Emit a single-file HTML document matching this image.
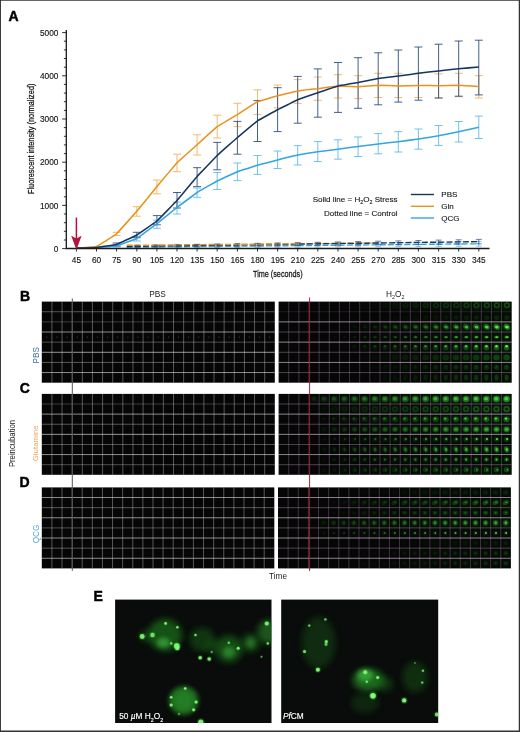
<!DOCTYPE html><html><head><meta charset="utf-8"><title>Figure</title>
<style>html,body{margin:0;padding:0;background:#fff}body{width:520px;height:732px;overflow:hidden}svg{display:block;will-change:transform}text{font-family:"Liberation Sans",sans-serif}</style></head><body>
<svg width="520" height="732" viewBox="0 0 520 732">
<defs>
<filter id="b1" x="-50%" y="-50%" width="200%" height="200%"><feGaussianBlur stdDeviation="0.9"/></filter>
<filter id="b2" x="-50%" y="-50%" width="200%" height="200%"><feGaussianBlur stdDeviation="2.2"/></filter>
<filter id="b4" x="-50%" y="-50%" width="200%" height="200%"><feGaussianBlur stdDeviation="5"/></filter>
<filter id="b05" x="-50%" y="-50%" width="200%" height="200%"><feGaussianBlur stdDeviation="0.55"/></filter>
<filter id="b07" x="-50%" y="-50%" width="200%" height="200%"><feGaussianBlur stdDeviation="0.7"/></filter>
<filter id="b08" x="-50%" y="-50%" width="200%" height="200%"><feGaussianBlur stdDeviation="0.65"/></filter>
<filter id="b3" x="-50%" y="-50%" width="200%" height="200%"><feGaussianBlur stdDeviation="3.2"/></filter>
<filter id="b03" x="-20%" y="-20%" width="140%" height="140%"><feGaussianBlur stdDeviation="0.35"/></filter>
</defs>
<rect width="520" height="732" fill="#fff"/>
<g id="panelA">
<path d="M136.8 246.5V247.9M133.8 246.5h6M133.8 247.9h6M156.9 246.2V247.8M153.9 246.2h6M153.9 247.8h6M177.0 245.9V247.7M174.0 245.9h6M174.0 247.7h6M197.1 245.6V247.6M194.1 245.6h6M194.1 247.6h6M217.2 245.3V247.5M214.2 245.3h6M214.2 247.5h6M237.4 245.0V247.4M234.4 245.0h6M234.4 247.4h6M257.5 244.7V247.3M254.5 244.7h6M254.5 247.3h6M277.6 244.4V247.2M274.6 244.4h6M274.6 247.2h6M297.7 244.1V247.1M294.7 244.1h6M294.7 247.1h6M317.8 243.8V247.0M314.8 243.8h6M314.8 247.0h6M338.0 243.5V246.9M335.0 243.5h6M335.0 246.9h6M358.1 243.2V246.8M355.1 243.2h6M355.1 246.8h6M378.2 242.9V246.7M375.2 242.9h6M375.2 246.7h6M398.3 242.6V246.6M395.3 242.6h6M395.3 246.6h6M418.4 242.3V246.5M415.4 242.3h6M415.4 246.5h6M438.6 242.0V246.4M435.6 242.0h6M435.6 246.4h6M458.7 241.7V246.3M455.7 241.7h6M455.7 246.3h6M478.8 241.4V246.2M475.8 241.4h6M475.8 246.2h6" stroke="#63bce9" stroke-width="0.8" fill="none"/>
<path d="M136.8 244.8V246.0M133.8 244.8h6M133.8 246.0h6M156.9 244.6V245.8M153.9 244.6h6M153.9 245.8h6M177.0 244.3V245.7M174.0 244.3h6M174.0 245.7h6M197.1 244.0V245.6M194.1 244.0h6M194.1 245.6h6M217.2 243.8V245.4M214.2 243.8h6M214.2 245.4h6M237.4 243.5V245.3M234.4 243.5h6M234.4 245.3h6M257.5 243.3V245.1M254.5 243.3h6M254.5 245.1h6M277.6 243.0V245.0M274.6 243.0h6M274.6 245.0h6M297.7 242.7V244.9M294.7 242.7h6M294.7 244.9h6M317.8 242.5V244.7M314.8 242.5h6M314.8 244.7h6M338.0 242.2V244.6M335.0 242.2h6M335.0 244.6h6M358.1 242.0V244.4M355.1 242.0h6M355.1 244.4h6" stroke="#f1b25e" stroke-width="0.7" fill="none"/>
<path d="M126.7 247.3 L136.8 247.2 L156.9 247.0 L177.0 246.8 L197.1 246.6 L217.2 246.4 L237.4 246.2 L257.5 246.0 L277.6 245.8 L297.7 245.6" stroke="#35a5de" stroke-width="1.4" stroke-dasharray="6 2.2" fill="none"/>
<path d="M297.7 243.8 L317.8 243.6 L338.0 243.4 L358.1 243.2 L378.2 243.0" stroke="#e9921c" stroke-width="1.4" stroke-dasharray="6 2.2" fill="none"/>
<path d="M126.7 246.5 L136.8 246.3 L156.9 246.0 L177.0 245.8 L197.1 245.5 L217.2 245.2 L237.4 244.9 L257.5 244.7 L277.6 244.4 L297.7 244.1 L317.8 243.8 L338.0 243.5 L358.1 243.3 L378.2 243.0 L398.3 242.7 L418.4 242.4 L438.6 242.2 L458.7 241.9 L478.8 241.6" stroke="#17365f" stroke-width="1.4" stroke-dasharray="6 2.2" fill="none"/>
<path d="M126.7 245.3 L136.8 245.2 L156.9 245.0 L177.0 244.8 L197.1 244.6 L217.2 244.5 L237.4 244.3 L257.5 244.1 L277.6 243.9 L297.7 243.7" stroke="#e9921c" stroke-width="1.4" stroke-dasharray="6 2.2" fill="none"/>
<path d="M297.7 245.6 L317.8 245.4 L338.0 245.2 L358.1 245.0 L378.2 244.8 L398.3 244.6 L418.4 244.4 L438.6 244.2 L458.7 244.0 L478.8 243.8" stroke="#35a5de" stroke-width="1.4" stroke-dasharray="6 2.2" fill="none"/>
<path d="M136.8 245.7V247.0M133.8 245.7h6M133.8 247.0h6M156.9 245.3V246.8M153.9 245.3h6M153.9 246.8h6M177.0 244.9V246.6M174.0 244.9h6M174.0 246.6h6M197.1 244.5V246.4M194.1 244.5h6M194.1 246.4h6M217.2 244.2V246.2M214.2 244.2h6M214.2 246.2h6M237.4 243.8V246.1M234.4 243.8h6M234.4 246.1h6M257.5 243.4V245.9M254.5 243.4h6M254.5 245.9h6M277.6 243.1V245.7M274.6 243.1h6M274.6 245.7h6M297.7 242.7V245.5M294.7 242.7h6M294.7 245.5h6M317.8 242.3V245.3M314.8 242.3h6M314.8 245.3h6M338.0 242.0V245.1M335.0 242.0h6M335.0 245.1h6M358.1 241.6V244.9M355.1 241.6h6M355.1 244.9h6M378.2 241.2V244.7M375.2 241.2h6M375.2 244.7h6M398.3 240.9V244.6M395.3 240.9h6M395.3 244.6h6M418.4 240.5V244.4M415.4 240.5h6M415.4 244.4h6M438.6 240.1V244.2M435.6 240.1h6M435.6 244.2h6M458.7 239.8V244.0M455.7 239.8h6M455.7 244.0h6M478.8 239.4V243.8M475.8 239.4h6M475.8 243.8h6" stroke="#2f4f7f" stroke-width="0.7" fill="none"/>
<path d="M116.6 232.3V235.5M112.6 232.3h8.0M112.6 235.5h8.0M136.8 206.7V216.2M132.8 206.7h8.0M132.8 216.2h8.0M156.9 180.0V193.8M152.9 180.0h8.0M152.9 193.8h8.0M177.0 154.2V171.7M173.0 154.2h8.0M173.0 171.7h8.0M197.1 134.8V155.0M193.1 134.8h8.0M193.1 155.0h8.0M217.2 115.2V138.0M213.2 115.2h8.0M213.2 138.0h8.0M237.4 103.3V126.7M233.4 103.3h8.0M233.4 126.7h8.0M257.5 89.8V114.6M253.5 89.8h8.0M253.5 114.6h8.0M277.6 85.0V107.9M273.6 85.0h8.0M273.6 107.9h8.0M297.7 79.6V103.3M293.7 79.6h8.0M293.7 103.3h8.0M317.8 77.0V100.3M313.8 77.0h8.0M313.8 100.3h8.0M338.0 74.7V98.0M334.0 74.7h8.0M334.0 98.0h8.0M358.1 75.7V98.6M354.1 75.7h8.0M354.1 98.6h8.0M378.2 73.3V97.5M374.2 73.3h8.0M374.2 97.5h8.0M398.3 73.3V97.5M394.3 73.3h8.0M394.3 97.5h8.0M418.4 73.3V97.5M414.4 73.3h8.0M414.4 97.5h8.0M438.6 73.8V98.0M434.6 73.8h8.0M434.6 98.0h8.0M458.7 73.3V96.7M454.7 73.3h8.0M454.7 96.7h8.0M478.8 75.7V98.0M474.8 75.7h8.0M474.8 98.0h8.0" stroke="#f1b25e" stroke-width="0.9" fill="none"/>
<path d="M116.6 245.0V247.0M112.6 245.0h8.0M112.6 247.0h8.0M136.8 236.4V241.0M132.8 236.4h8.0M132.8 241.0h8.0M156.9 220.2V228.3M152.9 220.2h8.0M152.9 228.3h8.0M177.0 202.0V214.0M173.0 202.0h8.0M173.0 214.0h8.0M197.1 188.0V197.3M193.1 188.0h8.0M193.1 197.3h8.0M217.2 172.5V189.5M213.2 172.5h8.0M213.2 189.5h8.0M237.4 163.0V180.6M233.4 163.0h8.0M233.4 180.6h8.0M257.5 155.5V174.4M253.5 155.5h8.0M253.5 174.4h8.0M277.6 151.0V168.5M273.6 151.0h8.0M273.6 168.5h8.0M297.7 145.6V165.0M293.7 145.6h8.0M293.7 165.0h8.0M317.8 141.6V161.5M313.8 141.6h8.0M313.8 161.5h8.0M338.0 139.8V159.2M334.0 139.8h8.0M334.0 159.2h8.0M358.1 137.0V156.5M354.1 137.0h8.0M354.1 156.5h8.0M378.2 133.6V153.8M374.2 133.6h8.0M374.2 153.8h8.0M398.3 131.7V152.0M394.3 131.7h8.0M394.3 152.0h8.0M418.4 129.0V149.2M414.4 129.0h8.0M414.4 149.2h8.0M438.6 125.5V145.4M434.6 125.5h8.0M434.6 145.4h8.0M458.7 121.5V142.0M454.7 121.5h8.0M454.7 142.0h8.0M478.8 116.1V138.5M474.8 116.1h8.0M474.8 138.5h8.0" stroke="#63bce9" stroke-width="0.9" fill="none"/>
<path d="M116.6 243.0V246.0M112.6 243.0h8.0M112.6 246.0h8.0M136.8 232.3V237.7M132.8 232.3h8.0M132.8 237.7h8.0M156.9 215.6V224.8M152.9 215.6h8.0M152.9 224.8h8.0M177.0 192.5V208.0M173.0 192.5h8.0M173.0 208.0h8.0M197.1 167.7V186.6M193.1 167.7h8.0M193.1 186.6h8.0M217.2 142.4V169.8M213.2 142.4h8.0M213.2 169.8h8.0M237.4 121.4V154.2M233.4 121.4h8.0M233.4 154.2h8.0M257.5 100.6V141.5M253.5 100.6h8.0M253.5 141.5h8.0M277.6 87.7V131.6M273.6 87.7h8.0M273.6 131.6h8.0M297.7 76.4V123.2M293.7 76.4h8.0M293.7 123.2h8.0M317.8 68.9V117.2M313.8 68.9h8.0M313.8 117.2h8.0M338.0 62.5V112.4M334.0 62.5h8.0M334.0 112.4h8.0M358.1 57.7V108.3M354.1 57.7h8.0M354.1 108.3h8.0M378.2 52.8V104.8M374.2 52.8h8.0M374.2 104.8h8.0M398.3 50.0V102.1M394.3 50.0h8.0M394.3 102.1h8.0M418.4 47.0V100.2M414.4 47.0h8.0M414.4 100.2h8.0M438.6 44.2V98.0M434.6 44.2h8.0M434.6 98.0h8.0M458.7 41.0V96.2M454.7 41.0h8.0M454.7 96.2h8.0M478.8 40.2V94.9M474.8 40.2h8.0M474.8 94.9h8.0" stroke="#2f4f7f" stroke-width="0.9" fill="none"/>
<path d="M76.4 248.0 C77.0 248.0 95.3 247.8 96.5 247.7 C97.7 247.6 115.4 246.1 116.6 245.8 C117.8 245.5 135.6 239.2 136.8 238.5 C138.0 237.8 155.7 224.6 156.9 223.7 C158.1 222.8 175.8 208.4 177.0 207.5 C178.2 206.6 195.9 193.3 197.1 192.5 C198.3 191.7 216.0 181.6 217.2 181.0 C218.4 180.4 236.2 172.2 237.4 171.7 C238.6 171.2 256.3 165.6 257.5 165.2 C258.7 164.8 276.4 160.2 277.6 159.9 C278.8 159.6 296.5 155.2 297.7 155.0 C298.9 154.8 316.6 151.9 317.8 151.7 C319.0 151.5 336.8 149.4 338.0 149.2 C339.2 149.0 356.9 146.7 358.1 146.5 C359.3 146.3 377.0 144.0 378.2 143.9 C379.4 143.8 397.1 141.8 398.3 141.7 C399.5 141.6 417.2 139.2 418.4 139.0 C419.6 138.8 437.4 136.0 438.6 135.8 C439.8 135.6 457.5 132.0 458.7 131.7 C459.9 131.4 478.2 127.3 478.8 127.2" stroke="#35a5de" stroke-width="1.55" fill="none" stroke-linejoin="round"/>
<path d="M76.4 248.0 C77.0 248.0 95.3 247.0 96.5 246.6 C97.7 246.2 115.4 234.8 116.6 233.7 C117.8 232.6 135.6 212.7 136.8 211.3 C138.0 209.9 155.7 188.0 156.9 186.5 C158.1 185.0 175.8 164.1 177.0 162.8 C178.2 161.5 195.9 145.9 197.1 144.8 C198.3 143.7 216.0 127.6 217.2 126.7 C218.4 125.8 236.2 115.3 237.4 114.6 C238.6 113.8 256.3 102.3 257.5 101.7 C258.7 101.1 276.4 96.1 277.6 95.8 C278.8 95.5 296.5 91.1 297.7 90.9 C298.9 90.7 316.6 88.8 317.8 88.7 C319.0 88.6 336.8 86.1 338.0 86.0 C339.2 85.9 356.9 86.8 358.1 86.8 C359.3 86.8 377.0 85.2 378.2 85.2 C379.4 85.2 397.1 86.0 398.3 86.0 C399.5 86.0 417.2 85.4 418.4 85.4 C419.6 85.4 437.4 85.7 438.6 85.7 C439.8 85.7 457.5 85.2 458.7 85.2 C459.9 85.2 478.2 86.5 478.8 86.5" stroke="#e9921c" stroke-width="1.55" fill="none" stroke-linejoin="round"/>
<path d="M76.4 248.0 C77.0 248.0 95.3 247.6 96.5 247.5 C97.7 247.4 115.4 244.8 116.6 244.4 C117.8 244.0 135.6 235.7 136.8 235.0 C138.0 234.3 155.7 222.0 156.9 221.0 C158.1 220.0 175.8 201.8 177.0 200.5 C178.2 199.2 195.9 177.8 197.1 176.4 C198.3 175.1 216.0 156.7 217.2 155.5 C218.4 154.3 236.2 138.5 237.4 137.5 C238.6 136.5 256.3 121.6 257.5 120.8 C258.7 120.0 276.4 110.4 277.6 109.8 C278.8 109.2 296.5 100.3 297.7 99.8 C298.9 99.3 316.6 93.2 317.8 92.8 C319.0 92.4 336.8 86.3 338.0 86.0 C339.2 85.7 356.9 82.7 358.1 82.5 C359.3 82.3 377.0 78.6 378.2 78.4 C379.4 78.2 397.1 76.2 398.3 76.0 C399.5 75.8 417.2 73.5 418.4 73.3 C419.6 73.1 437.4 71.0 438.6 70.9 C439.8 70.8 457.5 68.8 458.7 68.7 C459.9 68.6 478.2 67.1 478.8 67.1" stroke="#17365f" stroke-width="1.55" fill="none" stroke-linejoin="round"/>
<path d="M66.3 30V248.5H489.5" stroke="#1a1a1a" stroke-width="1.3" fill="none"/>
<path d="M66.3 248.6h-4.2M66.3 240.0h-2.4M66.3 231.3h-2.4M66.3 222.7h-2.4M66.3 214.0h-2.4M66.3 205.4h-4.2M66.3 196.8h-2.4M66.3 188.1h-2.4M66.3 179.5h-2.4M66.3 170.8h-2.4M66.3 162.2h-4.2M66.3 153.6h-2.4M66.3 144.9h-2.4M66.3 136.3h-2.4M66.3 127.6h-2.4M66.3 119.0h-4.2M66.3 110.4h-2.4M66.3 101.7h-2.4M66.3 93.1h-2.4M66.3 84.4h-2.4M66.3 75.8h-4.2M66.3 67.2h-2.4M66.3 58.5h-2.4M66.3 49.9h-2.4M66.3 41.2h-2.4M66.3 32.6h-4.2" stroke="#1a1a1a" stroke-width="0.9" fill="none"/>
<path d="M76.4 248.5v3M96.5 248.5v3M116.6 248.5v3M136.8 248.5v3M156.9 248.5v3M177.0 248.5v3M197.1 248.5v3M217.2 248.5v3M237.4 248.5v3M257.5 248.5v3M277.6 248.5v3M297.7 248.5v3M317.8 248.5v3M338.0 248.5v3M358.1 248.5v3M378.2 248.5v3M398.3 248.5v3M418.4 248.5v3M438.6 248.5v3M458.7 248.5v3M478.8 248.5v3" stroke="#1a1a1a" stroke-width="0.9" fill="none"/>
<g font-size="8.3" fill="#111" stroke="#111" stroke-width="0.12">
<text x="58.4" y="251.7" text-anchor="end">0</text>
<text x="58.4" y="208.5" text-anchor="end">1000</text>
<text x="58.4" y="165.3" text-anchor="end">2000</text>
<text x="58.4" y="122.1" text-anchor="end">3000</text>
<text x="58.4" y="78.9" text-anchor="end">4000</text>
<text x="58.4" y="35.7" text-anchor="end">5000</text>
<text x="76.4" y="263.0" text-anchor="middle">45</text>
<text x="96.5" y="263.0" text-anchor="middle">60</text>
<text x="116.6" y="263.0" text-anchor="middle">75</text>
<text x="136.8" y="263.0" text-anchor="middle">90</text>
<text x="156.9" y="263.0" text-anchor="middle">105</text>
<text x="177.0" y="263.0" text-anchor="middle">120</text>
<text x="197.1" y="263.0" text-anchor="middle">135</text>
<text x="217.2" y="263.0" text-anchor="middle">150</text>
<text x="237.4" y="263.0" text-anchor="middle">165</text>
<text x="257.5" y="263.0" text-anchor="middle">180</text>
<text x="277.6" y="263.0" text-anchor="middle">195</text>
<text x="297.7" y="263.0" text-anchor="middle">210</text>
<text x="317.8" y="263.0" text-anchor="middle">225</text>
<text x="338.0" y="263.0" text-anchor="middle">240</text>
<text x="358.1" y="263.0" text-anchor="middle">255</text>
<text x="378.2" y="263.0" text-anchor="middle">270</text>
<text x="398.3" y="263.0" text-anchor="middle">285</text>
<text x="418.4" y="263.0" text-anchor="middle">300</text>
<text x="438.6" y="263.0" text-anchor="middle">315</text>
<text x="458.7" y="263.0" text-anchor="middle">330</text>
<text x="478.8" y="263.0" text-anchor="middle">345</text>
</g>
<text transform="translate(277.8 277.2) scale(0.755 1)" font-size="9.6" text-anchor="middle" fill="#111" stroke="#111" stroke-width="0.25">Time (seconds)</text>
<text transform="translate(33.6 138.8) rotate(-90) scale(0.768 1)" font-size="9.6" text-anchor="middle" fill="#111" stroke="#111" stroke-width="0.25">Fluorescent intensity (normalized)</text>
<path d="M76.4 217.5V239" stroke="#b5123a" stroke-width="1.5"/>
<path d="M76.4 249.8L71.2 235.8L76.4 238.6L81.6 235.8Z" fill="#b5123a"/>
<g font-size="8.05" fill="#111" stroke="#111" stroke-width="0.1">
<text x="397.5" y="201.8" text-anchor="end">Solid line = H<tspan font-size="5.3" dy="2.2">2</tspan><tspan dy="-2.2">O</tspan><tspan font-size="5.3" dy="2.2">2</tspan><tspan dy="-2.2"> Stress</tspan></text>
<text x="397.5" y="216.3" text-anchor="end">Dotted line = Control</text>
<text x="441.3" y="197.2">PBS</text><text x="441.3" y="209">Gln</text><text x="441.3" y="220.7">QCG</text>
</g>
<path d="M410.8 194.5h23.2" stroke="#17365f" stroke-width="1.4"/>
<path d="M410.8 206.3h23.2" stroke="#e9921c" stroke-width="1.4"/>
<path d="M410.8 218h23.2" stroke="#35a5de" stroke-width="1.4"/>
<text x="8.6" y="21" font-size="14" font-weight="bold" fill="#000" stroke="#000" stroke-width="0.45">A</text>
</g>
<g id="panelsBCD">
<rect x="41.8" y="301.6" width="233.0" height="81.1" fill="#060606"/>
<rect x="278.6" y="301.6" width="233.1" height="81.1" fill="#060606"/>
<path d="M51.93 301.6V382.7M62.06 301.6V382.7M72.19 301.6V382.7M82.32 301.6V382.7M92.45 301.6V382.7M102.58 301.6V382.7M112.71 301.6V382.7M122.84 301.6V382.7M132.97 301.6V382.7M143.10 301.6V382.7M153.23 301.6V382.7M163.37 301.6V382.7M173.50 301.6V382.7M183.63 301.6V382.7M193.76 301.6V382.7M203.89 301.6V382.7M214.02 301.6V382.7M224.15 301.6V382.7M234.28 301.6V382.7M244.41 301.6V382.7M254.54 301.6V382.7M264.67 301.6V382.7" stroke="#ccc" stroke-width="0.75" opacity="0.55" fill="none"/><path d="M41.8 311.74H274.8" stroke="#ccc" stroke-width="0.9" opacity="0.45"/><path d="M41.8 321.88H274.8" stroke="#ccc" stroke-width="0.9" opacity="0.3"/><path d="M41.8 332.01H274.8" stroke="#ddd" stroke-width="0.9" opacity="0.7"/><path d="M41.8 342.15H274.8" stroke="#ccc" stroke-width="0.9" opacity="0.4"/><path d="M41.8 352.29H274.8" stroke="#ddd" stroke-width="0.9" opacity="0.75"/><path d="M41.8 362.43H274.8" stroke="#ccc" stroke-width="0.9" opacity="0.45"/><path d="M41.8 372.56H274.8" stroke="#ddd" stroke-width="0.9" opacity="0.7"/>
<g filter="url(#b1)"><rect x="360.5" y="302.5" width="8.4" height="8.4" fill="#1d7a1d" opacity="0.01"/><rect x="370.7" y="302.5" width="8.4" height="8.4" fill="#1d7a1d" opacity="0.01"/><rect x="380.8" y="302.5" width="8.4" height="8.4" fill="#1d7a1d" opacity="0.02"/><rect x="390.9" y="302.5" width="8.4" height="8.4" fill="#1d7a1d" opacity="0.03"/><rect x="401.1" y="302.5" width="8.4" height="8.4" fill="#1d7a1d" opacity="0.04"/><rect x="411.2" y="302.5" width="8.4" height="8.4" fill="#1d7a1d" opacity="0.05"/><rect x="421.4" y="302.5" width="8.4" height="8.4" fill="#1d7a1d" opacity="0.06"/><rect x="431.5" y="302.5" width="8.4" height="8.4" fill="#1d7a1d" opacity="0.07"/><rect x="441.6" y="302.5" width="8.4" height="8.4" fill="#1d7a1d" opacity="0.08"/><rect x="451.8" y="302.5" width="8.4" height="8.4" fill="#1d7a1d" opacity="0.09"/><rect x="461.9" y="302.5" width="8.4" height="8.4" fill="#1d7a1d" opacity="0.11"/><rect x="472.0" y="302.5" width="8.4" height="8.4" fill="#1d7a1d" opacity="0.12"/><rect x="482.2" y="302.5" width="8.4" height="8.4" fill="#1d7a1d" opacity="0.13"/><rect x="492.3" y="302.5" width="8.4" height="8.4" fill="#1d7a1d" opacity="0.14"/><rect x="502.4" y="302.5" width="8.4" height="8.4" fill="#1d7a1d" opacity="0.15"/><rect x="370.7" y="312.6" width="8.4" height="8.4" fill="#1d7a1d" opacity="0.00"/><rect x="380.8" y="312.6" width="8.4" height="8.4" fill="#1d7a1d" opacity="0.01"/><rect x="390.9" y="312.6" width="8.4" height="8.4" fill="#1d7a1d" opacity="0.01"/><rect x="401.1" y="312.6" width="8.4" height="8.4" fill="#1d7a1d" opacity="0.01"/><rect x="411.2" y="312.6" width="8.4" height="8.4" fill="#1d7a1d" opacity="0.02"/><rect x="421.4" y="312.6" width="8.4" height="8.4" fill="#1d7a1d" opacity="0.02"/><rect x="431.5" y="312.6" width="8.4" height="8.4" fill="#1d7a1d" opacity="0.03"/><rect x="441.6" y="312.6" width="8.4" height="8.4" fill="#1d7a1d" opacity="0.03"/><rect x="451.8" y="312.6" width="8.4" height="8.4" fill="#1d7a1d" opacity="0.04"/><rect x="461.9" y="312.6" width="8.4" height="8.4" fill="#1d7a1d" opacity="0.04"/><rect x="472.0" y="312.6" width="8.4" height="8.4" fill="#1d7a1d" opacity="0.05"/><rect x="482.2" y="312.6" width="8.4" height="8.4" fill="#1d7a1d" opacity="0.05"/><rect x="492.3" y="312.6" width="8.4" height="8.4" fill="#1d7a1d" opacity="0.06"/><rect x="502.4" y="312.6" width="8.4" height="8.4" fill="#1d7a1d" opacity="0.06"/><rect x="330.1" y="322.7" width="8.4" height="8.4" fill="#1d7a1d" opacity="0.00"/><rect x="340.3" y="322.7" width="8.4" height="8.4" fill="#1d7a1d" opacity="0.00"/><rect x="350.4" y="322.7" width="8.4" height="8.4" fill="#1d7a1d" opacity="0.01"/><rect x="360.5" y="322.7" width="8.4" height="8.4" fill="#1d7a1d" opacity="0.02"/><rect x="370.7" y="322.7" width="8.4" height="8.4" fill="#1d7a1d" opacity="0.02"/><rect x="380.8" y="322.7" width="8.4" height="8.4" fill="#1d7a1d" opacity="0.03"/><rect x="390.9" y="322.7" width="8.4" height="8.4" fill="#1d7a1d" opacity="0.05"/><rect x="401.1" y="322.7" width="8.4" height="8.4" fill="#1d7a1d" opacity="0.06"/><rect x="411.2" y="322.7" width="8.4" height="8.4" fill="#1d7a1d" opacity="0.07"/><rect x="421.4" y="322.7" width="8.4" height="8.4" fill="#1d7a1d" opacity="0.09"/><rect x="431.5" y="322.7" width="8.4" height="8.4" fill="#1d7a1d" opacity="0.10"/><rect x="441.6" y="322.7" width="8.4" height="8.4" fill="#1d7a1d" opacity="0.12"/><rect x="451.8" y="322.7" width="8.4" height="8.4" fill="#1d7a1d" opacity="0.14"/><rect x="461.9" y="322.7" width="8.4" height="8.4" fill="#1d7a1d" opacity="0.16"/><rect x="472.0" y="322.7" width="8.4" height="8.4" fill="#1d7a1d" opacity="0.18"/><rect x="482.2" y="322.7" width="8.4" height="8.4" fill="#1d7a1d" opacity="0.20"/><rect x="492.3" y="322.7" width="8.4" height="8.4" fill="#1d7a1d" opacity="0.22"/><rect x="502.4" y="322.7" width="8.4" height="8.4" fill="#1d7a1d" opacity="0.25"/><rect x="330.1" y="332.9" width="8.4" height="8.4" fill="#1d7a1d" opacity="0.00"/><rect x="340.3" y="332.9" width="8.4" height="8.4" fill="#1d7a1d" opacity="0.01"/><rect x="350.4" y="332.9" width="8.4" height="8.4" fill="#1d7a1d" opacity="0.01"/><rect x="360.5" y="332.9" width="8.4" height="8.4" fill="#1d7a1d" opacity="0.02"/><rect x="370.7" y="332.9" width="8.4" height="8.4" fill="#1d7a1d" opacity="0.03"/><rect x="380.8" y="332.9" width="8.4" height="8.4" fill="#1d7a1d" opacity="0.04"/><rect x="390.9" y="332.9" width="8.4" height="8.4" fill="#1d7a1d" opacity="0.04"/><rect x="401.1" y="332.9" width="8.4" height="8.4" fill="#1d7a1d" opacity="0.05"/><rect x="411.2" y="332.9" width="8.4" height="8.4" fill="#1d7a1d" opacity="0.06"/><rect x="421.4" y="332.9" width="8.4" height="8.4" fill="#1d7a1d" opacity="0.07"/><rect x="431.5" y="332.9" width="8.4" height="8.4" fill="#1d7a1d" opacity="0.08"/><rect x="441.6" y="332.9" width="8.4" height="8.4" fill="#1d7a1d" opacity="0.09"/><rect x="451.8" y="332.9" width="8.4" height="8.4" fill="#1d7a1d" opacity="0.10"/><rect x="461.9" y="332.9" width="8.4" height="8.4" fill="#1d7a1d" opacity="0.11"/><rect x="472.0" y="332.9" width="8.4" height="8.4" fill="#1d7a1d" opacity="0.12"/><rect x="482.2" y="332.9" width="8.4" height="8.4" fill="#1d7a1d" opacity="0.13"/><rect x="492.3" y="332.9" width="8.4" height="8.4" fill="#1d7a1d" opacity="0.14"/><rect x="502.4" y="332.9" width="8.4" height="8.4" fill="#1d7a1d" opacity="0.15"/><rect x="340.3" y="343.0" width="8.4" height="8.4" fill="#1d7a1d" opacity="0.00"/><rect x="350.4" y="343.0" width="8.4" height="8.4" fill="#1d7a1d" opacity="0.01"/><rect x="360.5" y="343.0" width="8.4" height="8.4" fill="#1d7a1d" opacity="0.02"/><rect x="370.7" y="343.0" width="8.4" height="8.4" fill="#1d7a1d" opacity="0.03"/><rect x="380.8" y="343.0" width="8.4" height="8.4" fill="#1d7a1d" opacity="0.04"/><rect x="390.9" y="343.0" width="8.4" height="8.4" fill="#1d7a1d" opacity="0.05"/><rect x="401.1" y="343.0" width="8.4" height="8.4" fill="#1d7a1d" opacity="0.06"/><rect x="411.2" y="343.0" width="8.4" height="8.4" fill="#1d7a1d" opacity="0.07"/><rect x="421.4" y="343.0" width="8.4" height="8.4" fill="#1d7a1d" opacity="0.08"/><rect x="431.5" y="343.0" width="8.4" height="8.4" fill="#1d7a1d" opacity="0.09"/><rect x="441.6" y="343.0" width="8.4" height="8.4" fill="#1d7a1d" opacity="0.10"/><rect x="451.8" y="343.0" width="8.4" height="8.4" fill="#1d7a1d" opacity="0.11"/><rect x="461.9" y="343.0" width="8.4" height="8.4" fill="#1d7a1d" opacity="0.13"/><rect x="472.0" y="343.0" width="8.4" height="8.4" fill="#1d7a1d" opacity="0.14"/><rect x="482.2" y="343.0" width="8.4" height="8.4" fill="#1d7a1d" opacity="0.15"/><rect x="492.3" y="343.0" width="8.4" height="8.4" fill="#1d7a1d" opacity="0.17"/><rect x="502.4" y="343.0" width="8.4" height="8.4" fill="#1d7a1d" opacity="0.18"/><rect x="360.5" y="353.2" width="8.4" height="8.4" fill="#1d7a1d" opacity="0.01"/><rect x="370.7" y="353.2" width="8.4" height="8.4" fill="#1d7a1d" opacity="0.01"/><rect x="380.8" y="353.2" width="8.4" height="8.4" fill="#1d7a1d" opacity="0.02"/><rect x="390.9" y="353.2" width="8.4" height="8.4" fill="#1d7a1d" opacity="0.03"/><rect x="401.1" y="353.2" width="8.4" height="8.4" fill="#1d7a1d" opacity="0.04"/><rect x="411.2" y="353.2" width="8.4" height="8.4" fill="#1d7a1d" opacity="0.05"/><rect x="421.4" y="353.2" width="8.4" height="8.4" fill="#1d7a1d" opacity="0.05"/><rect x="431.5" y="353.2" width="8.4" height="8.4" fill="#1d7a1d" opacity="0.06"/><rect x="441.6" y="353.2" width="8.4" height="8.4" fill="#1d7a1d" opacity="0.07"/><rect x="451.8" y="353.2" width="8.4" height="8.4" fill="#1d7a1d" opacity="0.08"/><rect x="461.9" y="353.2" width="8.4" height="8.4" fill="#1d7a1d" opacity="0.09"/><rect x="472.0" y="353.2" width="8.4" height="8.4" fill="#1d7a1d" opacity="0.10"/><rect x="482.2" y="353.2" width="8.4" height="8.4" fill="#1d7a1d" opacity="0.11"/><rect x="492.3" y="353.2" width="8.4" height="8.4" fill="#1d7a1d" opacity="0.12"/><rect x="502.4" y="353.2" width="8.4" height="8.4" fill="#1d7a1d" opacity="0.13"/><rect x="360.5" y="363.3" width="8.4" height="8.4" fill="#1d7a1d" opacity="0.00"/><rect x="370.7" y="363.3" width="8.4" height="8.4" fill="#1d7a1d" opacity="0.01"/><rect x="380.8" y="363.3" width="8.4" height="8.4" fill="#1d7a1d" opacity="0.02"/><rect x="390.9" y="363.3" width="8.4" height="8.4" fill="#1d7a1d" opacity="0.02"/><rect x="401.1" y="363.3" width="8.4" height="8.4" fill="#1d7a1d" opacity="0.03"/><rect x="411.2" y="363.3" width="8.4" height="8.4" fill="#1d7a1d" opacity="0.03"/><rect x="421.4" y="363.3" width="8.4" height="8.4" fill="#1d7a1d" opacity="0.04"/><rect x="431.5" y="363.3" width="8.4" height="8.4" fill="#1d7a1d" opacity="0.05"/><rect x="441.6" y="363.3" width="8.4" height="8.4" fill="#1d7a1d" opacity="0.05"/><rect x="451.8" y="363.3" width="8.4" height="8.4" fill="#1d7a1d" opacity="0.06"/><rect x="461.9" y="363.3" width="8.4" height="8.4" fill="#1d7a1d" opacity="0.06"/><rect x="472.0" y="363.3" width="8.4" height="8.4" fill="#1d7a1d" opacity="0.07"/><rect x="482.2" y="363.3" width="8.4" height="8.4" fill="#1d7a1d" opacity="0.08"/><rect x="492.3" y="363.3" width="8.4" height="8.4" fill="#1d7a1d" opacity="0.08"/><rect x="502.4" y="363.3" width="8.4" height="8.4" fill="#1d7a1d" opacity="0.09"/><rect x="360.5" y="373.4" width="8.4" height="8.4" fill="#1d7a1d" opacity="0.01"/><rect x="370.7" y="373.4" width="8.4" height="8.4" fill="#1d7a1d" opacity="0.01"/><rect x="380.8" y="373.4" width="8.4" height="8.4" fill="#1d7a1d" opacity="0.02"/><rect x="390.9" y="373.4" width="8.4" height="8.4" fill="#1d7a1d" opacity="0.03"/><rect x="401.1" y="373.4" width="8.4" height="8.4" fill="#1d7a1d" opacity="0.03"/><rect x="411.2" y="373.4" width="8.4" height="8.4" fill="#1d7a1d" opacity="0.04"/><rect x="421.4" y="373.4" width="8.4" height="8.4" fill="#1d7a1d" opacity="0.05"/><rect x="431.5" y="373.4" width="8.4" height="8.4" fill="#1d7a1d" opacity="0.05"/><rect x="441.6" y="373.4" width="8.4" height="8.4" fill="#1d7a1d" opacity="0.06"/><rect x="451.8" y="373.4" width="8.4" height="8.4" fill="#1d7a1d" opacity="0.07"/><rect x="461.9" y="373.4" width="8.4" height="8.4" fill="#1d7a1d" opacity="0.08"/><rect x="472.0" y="373.4" width="8.4" height="8.4" fill="#1d7a1d" opacity="0.08"/><rect x="482.2" y="373.4" width="8.4" height="8.4" fill="#1d7a1d" opacity="0.09"/><rect x="492.3" y="373.4" width="8.4" height="8.4" fill="#1d7a1d" opacity="0.10"/><rect x="502.4" y="373.4" width="8.4" height="8.4" fill="#1d7a1d" opacity="0.11"/></g><g filter="url(#b07)"><ellipse cx="365.0" cy="305.3" rx="3.2" ry="3.0" fill="#27a527" opacity="0.02"/><ellipse cx="375.2" cy="305.3" rx="3.2" ry="3.0" fill="#27a527" opacity="0.03"/><ellipse cx="385.3" cy="305.3" rx="3.2" ry="3.0" fill="#27a527" opacity="0.06"/><ellipse cx="395.4" cy="305.3" rx="3.2" ry="3.0" fill="#27a527" opacity="0.08"/><ellipse cx="405.6" cy="305.3" rx="3.2" ry="3.0" fill="#27a527" opacity="0.10"/><ellipse cx="415.7" cy="305.3" rx="3.2" ry="3.0" fill="#27a527" opacity="0.13"/><ellipse cx="425.9" cy="305.3" rx="3.2" ry="3.0" fill="#27a527" opacity="0.16"/><ellipse cx="436.0" cy="305.3" rx="3.2" ry="3.0" fill="#27a527" opacity="0.18"/><ellipse cx="446.1" cy="305.3" rx="3.2" ry="3.0" fill="#27a527" opacity="0.21"/><ellipse cx="456.3" cy="305.3" rx="3.2" ry="3.0" fill="#27a527" opacity="0.24"/><ellipse cx="466.4" cy="305.3" rx="3.2" ry="3.0" fill="#27a527" opacity="0.27"/><ellipse cx="476.5" cy="305.3" rx="3.2" ry="3.0" fill="#27a527" opacity="0.30"/><ellipse cx="486.7" cy="305.3" rx="3.2" ry="3.0" fill="#27a527" opacity="0.33"/><ellipse cx="496.8" cy="305.3" rx="3.2" ry="3.0" fill="#27a527" opacity="0.36"/><ellipse cx="506.9" cy="305.3" rx="3.2" ry="3.0" fill="#27a527" opacity="0.39"/><ellipse cx="375.2" cy="317.6" rx="2.7" ry="2.3" fill="#27a527" opacity="0.01"/><ellipse cx="385.3" cy="317.6" rx="2.7" ry="2.3" fill="#27a527" opacity="0.02"/><ellipse cx="395.4" cy="317.6" rx="2.7" ry="2.3" fill="#27a527" opacity="0.03"/><ellipse cx="405.6" cy="317.6" rx="2.7" ry="2.3" fill="#27a527" opacity="0.04"/><ellipse cx="415.7" cy="317.6" rx="2.7" ry="2.3" fill="#27a527" opacity="0.05"/><ellipse cx="425.9" cy="317.6" rx="2.7" ry="2.3" fill="#27a527" opacity="0.06"/><ellipse cx="436.0" cy="317.6" rx="2.7" ry="2.3" fill="#27a527" opacity="0.07"/><ellipse cx="446.1" cy="317.6" rx="2.7" ry="2.3" fill="#27a527" opacity="0.08"/><ellipse cx="456.3" cy="317.6" rx="2.7" ry="2.3" fill="#27a527" opacity="0.09"/><ellipse cx="466.4" cy="317.6" rx="2.7" ry="2.3" fill="#27a527" opacity="0.11"/><ellipse cx="476.5" cy="317.6" rx="2.7" ry="2.3" fill="#27a527" opacity="0.12"/><ellipse cx="486.7" cy="317.6" rx="2.7" ry="2.3" fill="#27a527" opacity="0.13"/><ellipse cx="496.8" cy="317.6" rx="2.7" ry="2.3" fill="#27a527" opacity="0.15"/><ellipse cx="506.9" cy="317.6" rx="2.7" ry="2.3" fill="#27a527" opacity="0.16"/><ellipse cx="334.6" cy="326.9" rx="3.5" ry="2.5" fill="#27a527" opacity="0.00" transform="rotate(35 334.6 326.9)"/><ellipse cx="344.8" cy="326.9" rx="3.5" ry="2.5" fill="#27a527" opacity="0.01" transform="rotate(35 344.8 326.9)"/><ellipse cx="354.9" cy="326.9" rx="3.5" ry="2.5" fill="#27a527" opacity="0.03" transform="rotate(35 354.9 326.9)"/><ellipse cx="365.0" cy="326.9" rx="3.5" ry="2.5" fill="#27a527" opacity="0.04" transform="rotate(35 365.0 326.9)"/><ellipse cx="375.2" cy="326.9" rx="3.5" ry="2.5" fill="#27a527" opacity="0.06" transform="rotate(35 375.2 326.9)"/><ellipse cx="385.3" cy="326.9" rx="3.5" ry="2.5" fill="#27a527" opacity="0.09" transform="rotate(35 385.3 326.9)"/><ellipse cx="395.4" cy="326.9" rx="3.5" ry="2.5" fill="#27a527" opacity="0.12" transform="rotate(35 395.4 326.9)"/><ellipse cx="405.6" cy="326.9" rx="3.5" ry="2.5" fill="#27a527" opacity="0.15" transform="rotate(35 405.6 326.9)"/><ellipse cx="415.7" cy="326.9" rx="3.5" ry="2.5" fill="#27a527" opacity="0.18" transform="rotate(35 415.7 326.9)"/><ellipse cx="425.9" cy="326.9" rx="3.5" ry="2.5" fill="#27a527" opacity="0.22" transform="rotate(35 425.9 326.9)"/><ellipse cx="436.0" cy="326.9" rx="3.5" ry="2.5" fill="#27a527" opacity="0.26" transform="rotate(35 436.0 326.9)"/><ellipse cx="446.1" cy="326.9" rx="3.5" ry="2.5" fill="#27a527" opacity="0.30" transform="rotate(35 446.1 326.9)"/><ellipse cx="456.3" cy="326.9" rx="3.5" ry="2.5" fill="#27a527" opacity="0.35" transform="rotate(35 456.3 326.9)"/><ellipse cx="466.4" cy="326.9" rx="3.5" ry="2.5" fill="#27a527" opacity="0.40" transform="rotate(35 466.4 326.9)"/><ellipse cx="476.5" cy="326.9" rx="3.5" ry="2.5" fill="#27a527" opacity="0.46" transform="rotate(35 476.5 326.9)"/><ellipse cx="486.7" cy="326.9" rx="3.5" ry="2.5" fill="#27a527" opacity="0.51" transform="rotate(35 486.7 326.9)"/><ellipse cx="496.8" cy="326.9" rx="3.5" ry="2.5" fill="#27a527" opacity="0.57" transform="rotate(35 496.8 326.9)"/><ellipse cx="506.9" cy="326.9" rx="3.5" ry="2.5" fill="#27a527" opacity="0.63" transform="rotate(35 506.9 326.9)"/><ellipse cx="334.3" cy="337.1" rx="2.5" ry="1.6" fill="#27a527" opacity="0.01"/><ellipse cx="344.5" cy="337.1" rx="2.5" ry="1.6" fill="#27a527" opacity="0.02"/><ellipse cx="354.6" cy="337.1" rx="2.5" ry="1.6" fill="#27a527" opacity="0.04"/><ellipse cx="364.7" cy="337.1" rx="2.5" ry="1.6" fill="#27a527" opacity="0.06"/><ellipse cx="374.9" cy="337.1" rx="2.5" ry="1.6" fill="#27a527" opacity="0.07"/><ellipse cx="385.0" cy="337.1" rx="2.5" ry="1.6" fill="#27a527" opacity="0.09"/><ellipse cx="395.1" cy="337.1" rx="2.5" ry="1.6" fill="#27a527" opacity="0.11"/><ellipse cx="405.3" cy="337.1" rx="2.5" ry="1.6" fill="#27a527" opacity="0.14"/><ellipse cx="415.4" cy="337.1" rx="2.5" ry="1.6" fill="#27a527" opacity="0.16"/><ellipse cx="425.6" cy="337.1" rx="2.5" ry="1.6" fill="#27a527" opacity="0.18"/><ellipse cx="435.7" cy="337.1" rx="2.5" ry="1.6" fill="#27a527" opacity="0.21"/><ellipse cx="445.8" cy="337.1" rx="2.5" ry="1.6" fill="#27a527" opacity="0.23"/><ellipse cx="456.0" cy="337.1" rx="2.5" ry="1.6" fill="#27a527" opacity="0.26"/><ellipse cx="466.1" cy="337.1" rx="2.5" ry="1.6" fill="#27a527" opacity="0.28"/><ellipse cx="476.2" cy="337.1" rx="2.5" ry="1.6" fill="#27a527" opacity="0.31"/><ellipse cx="486.4" cy="337.1" rx="2.5" ry="1.6" fill="#27a527" opacity="0.34"/><ellipse cx="496.5" cy="337.1" rx="2.5" ry="1.6" fill="#27a527" opacity="0.36"/><ellipse cx="506.6" cy="337.1" rx="2.5" ry="1.6" fill="#27a527" opacity="0.39"/><ellipse cx="344.5" cy="347.6" rx="2.7" ry="2.9" fill="#27a527" opacity="0.01"/><ellipse cx="354.6" cy="347.6" rx="2.7" ry="2.9" fill="#27a527" opacity="0.03"/><ellipse cx="364.7" cy="347.6" rx="2.7" ry="2.9" fill="#27a527" opacity="0.05"/><ellipse cx="374.9" cy="347.6" rx="2.7" ry="2.9" fill="#27a527" opacity="0.07"/><ellipse cx="385.0" cy="347.6" rx="2.7" ry="2.9" fill="#27a527" opacity="0.09"/><ellipse cx="395.1" cy="347.6" rx="2.7" ry="2.9" fill="#27a527" opacity="0.12"/><ellipse cx="405.3" cy="347.6" rx="2.7" ry="2.9" fill="#27a527" opacity="0.15"/><ellipse cx="415.4" cy="347.6" rx="2.7" ry="2.9" fill="#27a527" opacity="0.17"/><ellipse cx="425.6" cy="347.6" rx="2.7" ry="2.9" fill="#27a527" opacity="0.20"/><ellipse cx="435.7" cy="347.6" rx="2.7" ry="2.9" fill="#27a527" opacity="0.23"/><ellipse cx="445.8" cy="347.6" rx="2.7" ry="2.9" fill="#27a527" opacity="0.26"/><ellipse cx="456.0" cy="347.6" rx="2.7" ry="2.9" fill="#27a527" opacity="0.29"/><ellipse cx="466.1" cy="347.6" rx="2.7" ry="2.9" fill="#27a527" opacity="0.32"/><ellipse cx="476.2" cy="347.6" rx="2.7" ry="2.9" fill="#27a527" opacity="0.36"/><ellipse cx="486.4" cy="347.6" rx="2.7" ry="2.9" fill="#27a527" opacity="0.39"/><ellipse cx="496.5" cy="347.6" rx="2.7" ry="2.9" fill="#27a527" opacity="0.43"/><ellipse cx="506.6" cy="347.6" rx="2.7" ry="2.9" fill="#27a527" opacity="0.46"/><ellipse cx="364.7" cy="357.4" rx="3.3" ry="3.0" fill="#27a527" opacity="0.02"/><ellipse cx="374.9" cy="357.4" rx="3.3" ry="3.0" fill="#27a527" opacity="0.04"/><ellipse cx="385.0" cy="357.4" rx="3.3" ry="3.0" fill="#27a527" opacity="0.05"/><ellipse cx="395.1" cy="357.4" rx="3.3" ry="3.0" fill="#27a527" opacity="0.08"/><ellipse cx="405.3" cy="357.4" rx="3.3" ry="3.0" fill="#27a527" opacity="0.10"/><ellipse cx="415.4" cy="357.4" rx="3.3" ry="3.0" fill="#27a527" opacity="0.12"/><ellipse cx="425.6" cy="357.4" rx="3.3" ry="3.0" fill="#27a527" opacity="0.14"/><ellipse cx="435.7" cy="357.4" rx="3.3" ry="3.0" fill="#27a527" opacity="0.16"/><ellipse cx="445.8" cy="357.4" rx="3.3" ry="3.0" fill="#27a527" opacity="0.18"/><ellipse cx="456.0" cy="357.4" rx="3.3" ry="3.0" fill="#27a527" opacity="0.21"/><ellipse cx="466.1" cy="357.4" rx="3.3" ry="3.0" fill="#27a527" opacity="0.23"/><ellipse cx="476.2" cy="357.4" rx="3.3" ry="3.0" fill="#27a527" opacity="0.25"/><ellipse cx="486.4" cy="357.4" rx="3.3" ry="3.0" fill="#27a527" opacity="0.28"/><ellipse cx="496.5" cy="357.4" rx="3.3" ry="3.0" fill="#27a527" opacity="0.30"/><ellipse cx="506.6" cy="357.4" rx="3.3" ry="3.0" fill="#27a527" opacity="0.32"/><ellipse cx="364.7" cy="367.5" rx="2.7" ry="2.5" fill="#27a527" opacity="0.01"/><ellipse cx="374.9" cy="367.5" rx="2.7" ry="2.5" fill="#27a527" opacity="0.03"/><ellipse cx="385.0" cy="367.5" rx="2.7" ry="2.5" fill="#27a527" opacity="0.04"/><ellipse cx="395.1" cy="367.5" rx="2.7" ry="2.5" fill="#27a527" opacity="0.05"/><ellipse cx="405.3" cy="367.5" rx="2.7" ry="2.5" fill="#27a527" opacity="0.07"/><ellipse cx="415.4" cy="367.5" rx="2.7" ry="2.5" fill="#27a527" opacity="0.08"/><ellipse cx="425.6" cy="367.5" rx="2.7" ry="2.5" fill="#27a527" opacity="0.10"/><ellipse cx="435.7" cy="367.5" rx="2.7" ry="2.5" fill="#27a527" opacity="0.12"/><ellipse cx="445.8" cy="367.5" rx="2.7" ry="2.5" fill="#27a527" opacity="0.13"/><ellipse cx="456.0" cy="367.5" rx="2.7" ry="2.5" fill="#27a527" opacity="0.15"/><ellipse cx="466.1" cy="367.5" rx="2.7" ry="2.5" fill="#27a527" opacity="0.16"/><ellipse cx="476.2" cy="367.5" rx="2.7" ry="2.5" fill="#27a527" opacity="0.18"/><ellipse cx="486.4" cy="367.5" rx="2.7" ry="2.5" fill="#27a527" opacity="0.20"/><ellipse cx="496.5" cy="367.5" rx="2.7" ry="2.5" fill="#27a527" opacity="0.21"/><ellipse cx="506.6" cy="367.5" rx="2.7" ry="2.5" fill="#27a527" opacity="0.23"/><ellipse cx="364.7" cy="377.6" rx="2.0" ry="3.2" fill="#27a527" opacity="0.01"/><ellipse cx="374.9" cy="377.6" rx="2.0" ry="3.2" fill="#27a527" opacity="0.03"/><ellipse cx="385.0" cy="377.6" rx="2.0" ry="3.2" fill="#27a527" opacity="0.05"/><ellipse cx="395.1" cy="377.6" rx="2.0" ry="3.2" fill="#27a527" opacity="0.06"/><ellipse cx="405.3" cy="377.6" rx="2.0" ry="3.2" fill="#27a527" opacity="0.08"/><ellipse cx="415.4" cy="377.6" rx="2.0" ry="3.2" fill="#27a527" opacity="0.10"/><ellipse cx="425.6" cy="377.6" rx="2.0" ry="3.2" fill="#27a527" opacity="0.12"/><ellipse cx="435.7" cy="377.6" rx="2.0" ry="3.2" fill="#27a527" opacity="0.14"/><ellipse cx="445.8" cy="377.6" rx="2.0" ry="3.2" fill="#27a527" opacity="0.16"/><ellipse cx="456.0" cy="377.6" rx="2.0" ry="3.2" fill="#27a527" opacity="0.18"/><ellipse cx="466.1" cy="377.6" rx="2.0" ry="3.2" fill="#27a527" opacity="0.20"/><ellipse cx="476.2" cy="377.6" rx="2.0" ry="3.2" fill="#27a527" opacity="0.22"/><ellipse cx="486.4" cy="377.6" rx="2.0" ry="3.2" fill="#27a527" opacity="0.24"/><ellipse cx="496.5" cy="377.6" rx="2.0" ry="3.2" fill="#27a527" opacity="0.26"/><ellipse cx="506.6" cy="377.6" rx="2.0" ry="3.2" fill="#27a527" opacity="0.28"/></g><g filter="url(#b05)"><ellipse cx="365.0" cy="305.3" rx="1.4" ry="1.4" fill="#061206" opacity="0.52"/><ellipse cx="375.2" cy="305.3" rx="1.4" ry="1.4" fill="#061206" opacity="0.54"/><ellipse cx="385.3" cy="305.3" rx="1.4" ry="1.4" fill="#061206" opacity="0.57"/><ellipse cx="395.4" cy="305.3" rx="1.4" ry="1.4" fill="#061206" opacity="0.60"/><ellipse cx="405.6" cy="305.3" rx="1.4" ry="1.4" fill="#061206" opacity="0.63"/><ellipse cx="415.7" cy="305.3" rx="1.4" ry="1.4" fill="#061206" opacity="0.67"/><ellipse cx="425.9" cy="305.3" rx="1.4" ry="1.4" fill="#061206" opacity="0.70"/><ellipse cx="436.0" cy="305.3" rx="1.4" ry="1.4" fill="#061206" opacity="0.74"/><ellipse cx="446.1" cy="305.3" rx="1.4" ry="1.4" fill="#061206" opacity="0.77"/><ellipse cx="456.3" cy="305.3" rx="1.4" ry="1.4" fill="#061206" opacity="0.81"/><ellipse cx="466.4" cy="305.3" rx="1.4" ry="1.4" fill="#061206" opacity="0.84"/><ellipse cx="476.5" cy="305.3" rx="1.4" ry="1.4" fill="#061206" opacity="0.88"/><ellipse cx="486.7" cy="305.3" rx="1.4" ry="1.4" fill="#061206" opacity="0.92"/><ellipse cx="496.8" cy="305.3" rx="1.4" ry="1.4" fill="#061206" opacity="0.96"/><ellipse cx="506.9" cy="305.3" rx="1.4" ry="1.4" fill="#061206" opacity="1.00"/><ellipse cx="334.6" cy="327.1" rx="1.8" ry="1.4" fill="#78ff68" opacity="0.00"/><ellipse cx="344.8" cy="327.1" rx="1.8" ry="1.4" fill="#78ff68" opacity="0.02"/><ellipse cx="354.9" cy="327.1" rx="1.8" ry="1.4" fill="#78ff68" opacity="0.03"/><ellipse cx="365.0" cy="327.1" rx="1.8" ry="1.4" fill="#78ff68" opacity="0.06"/><ellipse cx="375.2" cy="327.1" rx="1.8" ry="1.4" fill="#78ff68" opacity="0.08"/><ellipse cx="385.3" cy="327.1" rx="1.8" ry="1.4" fill="#78ff68" opacity="0.12"/><ellipse cx="395.4" cy="327.1" rx="1.8" ry="1.4" fill="#78ff68" opacity="0.16"/><ellipse cx="405.6" cy="327.1" rx="1.8" ry="1.4" fill="#78ff68" opacity="0.20"/><ellipse cx="415.7" cy="327.1" rx="1.8" ry="1.4" fill="#78ff68" opacity="0.24"/><ellipse cx="425.9" cy="327.1" rx="1.8" ry="1.4" fill="#78ff68" opacity="0.30"/><ellipse cx="436.0" cy="327.1" rx="1.8" ry="1.4" fill="#78ff68" opacity="0.35"/><ellipse cx="446.1" cy="327.1" rx="1.8" ry="1.4" fill="#78ff68" opacity="0.41"/><ellipse cx="456.3" cy="327.1" rx="1.8" ry="1.4" fill="#78ff68" opacity="0.47"/><ellipse cx="466.4" cy="327.1" rx="1.8" ry="1.4" fill="#78ff68" opacity="0.54"/><ellipse cx="476.5" cy="327.1" rx="1.8" ry="1.4" fill="#78ff68" opacity="0.61"/><ellipse cx="486.7" cy="327.1" rx="1.8" ry="1.4" fill="#78ff68" opacity="0.69"/><ellipse cx="496.8" cy="327.1" rx="1.8" ry="1.4" fill="#78ff68" opacity="0.77"/><ellipse cx="506.9" cy="327.1" rx="1.8" ry="1.4" fill="#78ff68" opacity="0.85"/><ellipse cx="334.6" cy="337.1" rx="1.7" ry="0.9" fill="#78ff68" opacity="0.02"/><ellipse cx="344.8" cy="337.1" rx="1.7" ry="0.9" fill="#78ff68" opacity="0.05"/><ellipse cx="354.9" cy="337.1" rx="1.7" ry="0.9" fill="#78ff68" opacity="0.08"/><ellipse cx="365.0" cy="337.1" rx="1.7" ry="0.9" fill="#78ff68" opacity="0.11"/><ellipse cx="375.2" cy="337.1" rx="1.7" ry="0.9" fill="#78ff68" opacity="0.15"/><ellipse cx="385.3" cy="337.1" rx="1.7" ry="0.9" fill="#78ff68" opacity="0.19"/><ellipse cx="395.4" cy="337.1" rx="1.7" ry="0.9" fill="#78ff68" opacity="0.23"/><ellipse cx="405.6" cy="337.1" rx="1.7" ry="0.9" fill="#78ff68" opacity="0.28"/><ellipse cx="415.7" cy="337.1" rx="1.7" ry="0.9" fill="#78ff68" opacity="0.32"/><ellipse cx="425.9" cy="337.1" rx="1.7" ry="0.9" fill="#78ff68" opacity="0.37"/><ellipse cx="436.0" cy="337.1" rx="1.7" ry="0.9" fill="#78ff68" opacity="0.42"/><ellipse cx="446.1" cy="337.1" rx="1.7" ry="0.9" fill="#78ff68" opacity="0.47"/><ellipse cx="456.3" cy="337.1" rx="1.7" ry="0.9" fill="#78ff68" opacity="0.52"/><ellipse cx="466.4" cy="337.1" rx="1.7" ry="0.9" fill="#78ff68" opacity="0.58"/><ellipse cx="476.5" cy="337.1" rx="1.7" ry="0.9" fill="#78ff68" opacity="0.63"/><ellipse cx="486.7" cy="337.1" rx="1.7" ry="0.9" fill="#78ff68" opacity="0.69"/><ellipse cx="496.8" cy="337.1" rx="1.7" ry="0.9" fill="#78ff68" opacity="0.74"/><ellipse cx="506.9" cy="337.1" rx="1.7" ry="0.9" fill="#78ff68" opacity="0.80"/><ellipse cx="344.5" cy="346.3" rx="1.3" ry="1.3" fill="#78ff68" opacity="0.02"/><ellipse cx="354.6" cy="346.3" rx="1.3" ry="1.3" fill="#78ff68" opacity="0.06"/><ellipse cx="364.7" cy="346.3" rx="1.3" ry="1.3" fill="#78ff68" opacity="0.09"/><ellipse cx="374.9" cy="346.3" rx="1.3" ry="1.3" fill="#78ff68" opacity="0.14"/><ellipse cx="385.0" cy="346.3" rx="1.3" ry="1.3" fill="#78ff68" opacity="0.18"/><ellipse cx="395.1" cy="346.3" rx="1.3" ry="1.3" fill="#78ff68" opacity="0.23"/><ellipse cx="405.3" cy="346.3" rx="1.3" ry="1.3" fill="#78ff68" opacity="0.28"/><ellipse cx="415.4" cy="346.3" rx="1.3" ry="1.3" fill="#78ff68" opacity="0.34"/><ellipse cx="425.6" cy="346.3" rx="1.3" ry="1.3" fill="#78ff68" opacity="0.39"/><ellipse cx="435.7" cy="346.3" rx="1.3" ry="1.3" fill="#78ff68" opacity="0.45"/><ellipse cx="445.8" cy="346.3" rx="1.3" ry="1.3" fill="#78ff68" opacity="0.51"/><ellipse cx="456.0" cy="346.3" rx="1.3" ry="1.3" fill="#78ff68" opacity="0.57"/><ellipse cx="466.1" cy="346.3" rx="1.3" ry="1.3" fill="#78ff68" opacity="0.64"/><ellipse cx="476.2" cy="346.3" rx="1.3" ry="1.3" fill="#78ff68" opacity="0.70"/><ellipse cx="486.4" cy="346.3" rx="1.3" ry="1.3" fill="#78ff68" opacity="0.76"/><ellipse cx="496.5" cy="346.3" rx="1.3" ry="1.3" fill="#78ff68" opacity="0.83"/><ellipse cx="506.6" cy="346.3" rx="1.3" ry="1.3" fill="#78ff68" opacity="0.90"/><ellipse cx="364.7" cy="366.5" rx="0.9" ry="0.9" fill="#78ff68" opacity="0.01"/><ellipse cx="374.9" cy="366.5" rx="0.9" ry="0.9" fill="#78ff68" opacity="0.02"/><ellipse cx="385.0" cy="366.5" rx="0.9" ry="0.9" fill="#78ff68" opacity="0.03"/><ellipse cx="395.1" cy="366.5" rx="0.9" ry="0.9" fill="#78ff68" opacity="0.04"/><ellipse cx="405.3" cy="366.5" rx="0.9" ry="0.9" fill="#78ff68" opacity="0.04"/><ellipse cx="415.4" cy="366.5" rx="0.9" ry="0.9" fill="#78ff68" opacity="0.05"/><ellipse cx="425.6" cy="366.5" rx="0.9" ry="0.9" fill="#78ff68" opacity="0.06"/><ellipse cx="435.7" cy="366.5" rx="0.9" ry="0.9" fill="#78ff68" opacity="0.08"/><ellipse cx="445.8" cy="366.5" rx="0.9" ry="0.9" fill="#78ff68" opacity="0.09"/><ellipse cx="456.0" cy="366.5" rx="0.9" ry="0.9" fill="#78ff68" opacity="0.10"/><ellipse cx="466.1" cy="366.5" rx="0.9" ry="0.9" fill="#78ff68" opacity="0.11"/><ellipse cx="476.2" cy="366.5" rx="0.9" ry="0.9" fill="#78ff68" opacity="0.12"/><ellipse cx="486.4" cy="366.5" rx="0.9" ry="0.9" fill="#78ff68" opacity="0.13"/><ellipse cx="496.5" cy="366.5" rx="0.9" ry="0.9" fill="#78ff68" opacity="0.14"/><ellipse cx="506.6" cy="366.5" rx="0.9" ry="0.9" fill="#78ff68" opacity="0.15"/></g>
<path d="M288.73 301.6V382.7M298.87 301.6V382.7M309.00 301.6V382.7M319.14 301.6V382.7M329.27 301.6V382.7M339.41 301.6V382.7M349.54 301.6V382.7M359.68 301.6V382.7M369.81 301.6V382.7M379.95 301.6V382.7M390.08 301.6V382.7M400.22 301.6V382.7M410.35 301.6V382.7M420.49 301.6V382.7M430.62 301.6V382.7M440.76 301.6V382.7M450.89 301.6V382.7M461.03 301.6V382.7M471.16 301.6V382.7M481.30 301.6V382.7M491.43 301.6V382.7M501.57 301.6V382.7" stroke="#a088a6" stroke-width="0.75" opacity="0.48" fill="none"/><path d="M278.6 311.74H511.7" stroke="#c9b3cc" stroke-width="0.9" opacity="0.15"/><path d="M278.6 321.88H511.7" stroke="#d8c8da" stroke-width="0.9" opacity="0.72"/><path d="M278.6 332.01H511.7" stroke="#a987b0" stroke-width="0.9" opacity="0.5"/><path d="M278.6 342.15H511.7" stroke="#d8c8da" stroke-width="0.9" opacity="0.72"/><path d="M278.6 352.29H511.7" stroke="#a987b0" stroke-width="0.9" opacity="0.5"/><path d="M278.6 362.43H511.7" stroke="#d8c8da" stroke-width="0.9" opacity="0.7"/><path d="M278.6 372.56H511.7" stroke="#a987b0" stroke-width="0.9" opacity="0.5"/>
<rect x="41.8" y="393.9" width="233.0" height="80.9" fill="#060606"/>
<rect x="278.6" y="393.9" width="233.1" height="80.9" fill="#060606"/>
<path d="M51.93 393.9V474.8M62.06 393.9V474.8M72.19 393.9V474.8M82.32 393.9V474.8M92.45 393.9V474.8M102.58 393.9V474.8M112.71 393.9V474.8M122.84 393.9V474.8M132.97 393.9V474.8M143.10 393.9V474.8M153.23 393.9V474.8M163.37 393.9V474.8M173.50 393.9V474.8M183.63 393.9V474.8M193.76 393.9V474.8M203.89 393.9V474.8M214.02 393.9V474.8M224.15 393.9V474.8M234.28 393.9V474.8M244.41 393.9V474.8M254.54 393.9V474.8M264.67 393.9V474.8" stroke="#ccc" stroke-width="0.75" opacity="0.55" fill="none"/><path d="M41.8 404.01H274.8" stroke="#ccc" stroke-width="0.9" opacity="0.3"/><path d="M41.8 414.12H274.8" stroke="#ddd" stroke-width="0.9" opacity="0.7"/><path d="M41.8 424.24H274.8" stroke="#ccc" stroke-width="0.9" opacity="0.45"/><path d="M41.8 434.35H274.8" stroke="#ddd" stroke-width="0.9" opacity="0.75"/><path d="M41.8 444.46H274.8" stroke="#ccc" stroke-width="0.9" opacity="0.45"/><path d="M41.8 454.57H274.8" stroke="#ddd" stroke-width="0.9" opacity="0.7"/><path d="M41.8 464.69H274.8" stroke="#ccc" stroke-width="0.9" opacity="0.4"/>
<g filter="url(#b1)"><rect x="309.9" y="394.8" width="8.4" height="8.4" fill="#1d7a1d" opacity="0.03"/><rect x="320.0" y="394.8" width="8.4" height="8.4" fill="#1d7a1d" opacity="0.05"/><rect x="330.1" y="394.8" width="8.4" height="8.4" fill="#1d7a1d" opacity="0.07"/><rect x="340.3" y="394.8" width="8.4" height="8.4" fill="#1d7a1d" opacity="0.09"/><rect x="350.4" y="394.8" width="8.4" height="8.4" fill="#1d7a1d" opacity="0.10"/><rect x="360.5" y="394.8" width="8.4" height="8.4" fill="#1d7a1d" opacity="0.12"/><rect x="370.7" y="394.8" width="8.4" height="8.4" fill="#1d7a1d" opacity="0.13"/><rect x="380.8" y="394.8" width="8.4" height="8.4" fill="#1d7a1d" opacity="0.14"/><rect x="390.9" y="394.8" width="8.4" height="8.4" fill="#1d7a1d" opacity="0.15"/><rect x="401.1" y="394.8" width="8.4" height="8.4" fill="#1d7a1d" opacity="0.17"/><rect x="411.2" y="394.8" width="8.4" height="8.4" fill="#1d7a1d" opacity="0.18"/><rect x="421.4" y="394.8" width="8.4" height="8.4" fill="#1d7a1d" opacity="0.19"/><rect x="431.5" y="394.8" width="8.4" height="8.4" fill="#1d7a1d" opacity="0.20"/><rect x="441.6" y="394.8" width="8.4" height="8.4" fill="#1d7a1d" opacity="0.21"/><rect x="451.8" y="394.8" width="8.4" height="8.4" fill="#1d7a1d" opacity="0.22"/><rect x="461.9" y="394.8" width="8.4" height="8.4" fill="#1d7a1d" opacity="0.23"/><rect x="472.0" y="394.8" width="8.4" height="8.4" fill="#1d7a1d" opacity="0.24"/><rect x="482.2" y="394.8" width="8.4" height="8.4" fill="#1d7a1d" opacity="0.25"/><rect x="492.3" y="394.8" width="8.4" height="8.4" fill="#1d7a1d" opacity="0.26"/><rect x="502.4" y="394.8" width="8.4" height="8.4" fill="#1d7a1d" opacity="0.27"/><rect x="320.0" y="404.9" width="8.4" height="8.4" fill="#1d7a1d" opacity="0.02"/><rect x="330.1" y="404.9" width="8.4" height="8.4" fill="#1d7a1d" opacity="0.03"/><rect x="340.3" y="404.9" width="8.4" height="8.4" fill="#1d7a1d" opacity="0.04"/><rect x="350.4" y="404.9" width="8.4" height="8.4" fill="#1d7a1d" opacity="0.05"/><rect x="360.5" y="404.9" width="8.4" height="8.4" fill="#1d7a1d" opacity="0.06"/><rect x="370.7" y="404.9" width="8.4" height="8.4" fill="#1d7a1d" opacity="0.07"/><rect x="380.8" y="404.9" width="8.4" height="8.4" fill="#1d7a1d" opacity="0.08"/><rect x="390.9" y="404.9" width="8.4" height="8.4" fill="#1d7a1d" opacity="0.09"/><rect x="401.1" y="404.9" width="8.4" height="8.4" fill="#1d7a1d" opacity="0.10"/><rect x="411.2" y="404.9" width="8.4" height="8.4" fill="#1d7a1d" opacity="0.11"/><rect x="421.4" y="404.9" width="8.4" height="8.4" fill="#1d7a1d" opacity="0.12"/><rect x="431.5" y="404.9" width="8.4" height="8.4" fill="#1d7a1d" opacity="0.12"/><rect x="441.6" y="404.9" width="8.4" height="8.4" fill="#1d7a1d" opacity="0.13"/><rect x="451.8" y="404.9" width="8.4" height="8.4" fill="#1d7a1d" opacity="0.14"/><rect x="461.9" y="404.9" width="8.4" height="8.4" fill="#1d7a1d" opacity="0.15"/><rect x="472.0" y="404.9" width="8.4" height="8.4" fill="#1d7a1d" opacity="0.16"/><rect x="482.2" y="404.9" width="8.4" height="8.4" fill="#1d7a1d" opacity="0.16"/><rect x="492.3" y="404.9" width="8.4" height="8.4" fill="#1d7a1d" opacity="0.17"/><rect x="502.4" y="404.9" width="8.4" height="8.4" fill="#1d7a1d" opacity="0.18"/><rect x="320.0" y="415.0" width="8.4" height="8.4" fill="#1d7a1d" opacity="0.01"/><rect x="330.1" y="415.0" width="8.4" height="8.4" fill="#1d7a1d" opacity="0.02"/><rect x="340.3" y="415.0" width="8.4" height="8.4" fill="#1d7a1d" opacity="0.04"/><rect x="350.4" y="415.0" width="8.4" height="8.4" fill="#1d7a1d" opacity="0.05"/><rect x="360.5" y="415.0" width="8.4" height="8.4" fill="#1d7a1d" opacity="0.06"/><rect x="370.7" y="415.0" width="8.4" height="8.4" fill="#1d7a1d" opacity="0.07"/><rect x="380.8" y="415.0" width="8.4" height="8.4" fill="#1d7a1d" opacity="0.08"/><rect x="390.9" y="415.0" width="8.4" height="8.4" fill="#1d7a1d" opacity="0.09"/><rect x="401.1" y="415.0" width="8.4" height="8.4" fill="#1d7a1d" opacity="0.10"/><rect x="411.2" y="415.0" width="8.4" height="8.4" fill="#1d7a1d" opacity="0.11"/><rect x="421.4" y="415.0" width="8.4" height="8.4" fill="#1d7a1d" opacity="0.12"/><rect x="431.5" y="415.0" width="8.4" height="8.4" fill="#1d7a1d" opacity="0.12"/><rect x="441.6" y="415.0" width="8.4" height="8.4" fill="#1d7a1d" opacity="0.13"/><rect x="451.8" y="415.0" width="8.4" height="8.4" fill="#1d7a1d" opacity="0.14"/><rect x="461.9" y="415.0" width="8.4" height="8.4" fill="#1d7a1d" opacity="0.15"/><rect x="472.0" y="415.0" width="8.4" height="8.4" fill="#1d7a1d" opacity="0.16"/><rect x="482.2" y="415.0" width="8.4" height="8.4" fill="#1d7a1d" opacity="0.17"/><rect x="492.3" y="415.0" width="8.4" height="8.4" fill="#1d7a1d" opacity="0.18"/><rect x="502.4" y="415.0" width="8.4" height="8.4" fill="#1d7a1d" opacity="0.19"/><rect x="320.0" y="425.1" width="8.4" height="8.4" fill="#1d7a1d" opacity="0.02"/><rect x="330.1" y="425.1" width="8.4" height="8.4" fill="#1d7a1d" opacity="0.03"/><rect x="340.3" y="425.1" width="8.4" height="8.4" fill="#1d7a1d" opacity="0.04"/><rect x="350.4" y="425.1" width="8.4" height="8.4" fill="#1d7a1d" opacity="0.06"/><rect x="360.5" y="425.1" width="8.4" height="8.4" fill="#1d7a1d" opacity="0.07"/><rect x="370.7" y="425.1" width="8.4" height="8.4" fill="#1d7a1d" opacity="0.08"/><rect x="380.8" y="425.1" width="8.4" height="8.4" fill="#1d7a1d" opacity="0.09"/><rect x="390.9" y="425.1" width="8.4" height="8.4" fill="#1d7a1d" opacity="0.10"/><rect x="401.1" y="425.1" width="8.4" height="8.4" fill="#1d7a1d" opacity="0.11"/><rect x="411.2" y="425.1" width="8.4" height="8.4" fill="#1d7a1d" opacity="0.13"/><rect x="421.4" y="425.1" width="8.4" height="8.4" fill="#1d7a1d" opacity="0.14"/><rect x="431.5" y="425.1" width="8.4" height="8.4" fill="#1d7a1d" opacity="0.15"/><rect x="441.6" y="425.1" width="8.4" height="8.4" fill="#1d7a1d" opacity="0.16"/><rect x="451.8" y="425.1" width="8.4" height="8.4" fill="#1d7a1d" opacity="0.17"/><rect x="461.9" y="425.1" width="8.4" height="8.4" fill="#1d7a1d" opacity="0.18"/><rect x="472.0" y="425.1" width="8.4" height="8.4" fill="#1d7a1d" opacity="0.19"/><rect x="482.2" y="425.1" width="8.4" height="8.4" fill="#1d7a1d" opacity="0.20"/><rect x="492.3" y="425.1" width="8.4" height="8.4" fill="#1d7a1d" opacity="0.21"/><rect x="502.4" y="425.1" width="8.4" height="8.4" fill="#1d7a1d" opacity="0.23"/><rect x="320.0" y="435.2" width="8.4" height="8.4" fill="#1d7a1d" opacity="0.01"/><rect x="330.1" y="435.2" width="8.4" height="8.4" fill="#1d7a1d" opacity="0.01"/><rect x="340.3" y="435.2" width="8.4" height="8.4" fill="#1d7a1d" opacity="0.02"/><rect x="350.4" y="435.2" width="8.4" height="8.4" fill="#1d7a1d" opacity="0.02"/><rect x="360.5" y="435.2" width="8.4" height="8.4" fill="#1d7a1d" opacity="0.03"/><rect x="370.7" y="435.2" width="8.4" height="8.4" fill="#1d7a1d" opacity="0.04"/><rect x="380.8" y="435.2" width="8.4" height="8.4" fill="#1d7a1d" opacity="0.04"/><rect x="390.9" y="435.2" width="8.4" height="8.4" fill="#1d7a1d" opacity="0.05"/><rect x="401.1" y="435.2" width="8.4" height="8.4" fill="#1d7a1d" opacity="0.05"/><rect x="411.2" y="435.2" width="8.4" height="8.4" fill="#1d7a1d" opacity="0.06"/><rect x="421.4" y="435.2" width="8.4" height="8.4" fill="#1d7a1d" opacity="0.06"/><rect x="431.5" y="435.2" width="8.4" height="8.4" fill="#1d7a1d" opacity="0.07"/><rect x="441.6" y="435.2" width="8.4" height="8.4" fill="#1d7a1d" opacity="0.07"/><rect x="451.8" y="435.2" width="8.4" height="8.4" fill="#1d7a1d" opacity="0.08"/><rect x="461.9" y="435.2" width="8.4" height="8.4" fill="#1d7a1d" opacity="0.08"/><rect x="472.0" y="435.2" width="8.4" height="8.4" fill="#1d7a1d" opacity="0.08"/><rect x="482.2" y="435.2" width="8.4" height="8.4" fill="#1d7a1d" opacity="0.09"/><rect x="492.3" y="435.2" width="8.4" height="8.4" fill="#1d7a1d" opacity="0.09"/><rect x="502.4" y="435.2" width="8.4" height="8.4" fill="#1d7a1d" opacity="0.10"/><rect x="320.0" y="445.3" width="8.4" height="8.4" fill="#1d7a1d" opacity="0.01"/><rect x="330.1" y="445.3" width="8.4" height="8.4" fill="#1d7a1d" opacity="0.02"/><rect x="340.3" y="445.3" width="8.4" height="8.4" fill="#1d7a1d" opacity="0.04"/><rect x="350.4" y="445.3" width="8.4" height="8.4" fill="#1d7a1d" opacity="0.05"/><rect x="360.5" y="445.3" width="8.4" height="8.4" fill="#1d7a1d" opacity="0.06"/><rect x="370.7" y="445.3" width="8.4" height="8.4" fill="#1d7a1d" opacity="0.07"/><rect x="380.8" y="445.3" width="8.4" height="8.4" fill="#1d7a1d" opacity="0.08"/><rect x="390.9" y="445.3" width="8.4" height="8.4" fill="#1d7a1d" opacity="0.09"/><rect x="401.1" y="445.3" width="8.4" height="8.4" fill="#1d7a1d" opacity="0.10"/><rect x="411.2" y="445.3" width="8.4" height="8.4" fill="#1d7a1d" opacity="0.11"/><rect x="421.4" y="445.3" width="8.4" height="8.4" fill="#1d7a1d" opacity="0.12"/><rect x="431.5" y="445.3" width="8.4" height="8.4" fill="#1d7a1d" opacity="0.12"/><rect x="441.6" y="445.3" width="8.4" height="8.4" fill="#1d7a1d" opacity="0.13"/><rect x="451.8" y="445.3" width="8.4" height="8.4" fill="#1d7a1d" opacity="0.14"/><rect x="461.9" y="445.3" width="8.4" height="8.4" fill="#1d7a1d" opacity="0.15"/><rect x="472.0" y="445.3" width="8.4" height="8.4" fill="#1d7a1d" opacity="0.16"/><rect x="482.2" y="445.3" width="8.4" height="8.4" fill="#1d7a1d" opacity="0.17"/><rect x="492.3" y="445.3" width="8.4" height="8.4" fill="#1d7a1d" opacity="0.18"/><rect x="502.4" y="445.3" width="8.4" height="8.4" fill="#1d7a1d" opacity="0.19"/><rect x="320.0" y="455.4" width="8.4" height="8.4" fill="#1d7a1d" opacity="0.01"/><rect x="330.1" y="455.4" width="8.4" height="8.4" fill="#1d7a1d" opacity="0.01"/><rect x="340.3" y="455.4" width="8.4" height="8.4" fill="#1d7a1d" opacity="0.02"/><rect x="350.4" y="455.4" width="8.4" height="8.4" fill="#1d7a1d" opacity="0.03"/><rect x="360.5" y="455.4" width="8.4" height="8.4" fill="#1d7a1d" opacity="0.03"/><rect x="370.7" y="455.4" width="8.4" height="8.4" fill="#1d7a1d" opacity="0.04"/><rect x="380.8" y="455.4" width="8.4" height="8.4" fill="#1d7a1d" opacity="0.04"/><rect x="390.9" y="455.4" width="8.4" height="8.4" fill="#1d7a1d" opacity="0.05"/><rect x="401.1" y="455.4" width="8.4" height="8.4" fill="#1d7a1d" opacity="0.06"/><rect x="411.2" y="455.4" width="8.4" height="8.4" fill="#1d7a1d" opacity="0.06"/><rect x="421.4" y="455.4" width="8.4" height="8.4" fill="#1d7a1d" opacity="0.07"/><rect x="431.5" y="455.4" width="8.4" height="8.4" fill="#1d7a1d" opacity="0.07"/><rect x="441.6" y="455.4" width="8.4" height="8.4" fill="#1d7a1d" opacity="0.08"/><rect x="451.8" y="455.4" width="8.4" height="8.4" fill="#1d7a1d" opacity="0.08"/><rect x="461.9" y="455.4" width="8.4" height="8.4" fill="#1d7a1d" opacity="0.09"/><rect x="472.0" y="455.4" width="8.4" height="8.4" fill="#1d7a1d" opacity="0.09"/><rect x="482.2" y="455.4" width="8.4" height="8.4" fill="#1d7a1d" opacity="0.10"/><rect x="492.3" y="455.4" width="8.4" height="8.4" fill="#1d7a1d" opacity="0.10"/><rect x="502.4" y="455.4" width="8.4" height="8.4" fill="#1d7a1d" opacity="0.11"/><rect x="320.0" y="465.5" width="8.4" height="8.4" fill="#1d7a1d" opacity="0.01"/><rect x="330.1" y="465.5" width="8.4" height="8.4" fill="#1d7a1d" opacity="0.02"/><rect x="340.3" y="465.5" width="8.4" height="8.4" fill="#1d7a1d" opacity="0.03"/><rect x="350.4" y="465.5" width="8.4" height="8.4" fill="#1d7a1d" opacity="0.04"/><rect x="360.5" y="465.5" width="8.4" height="8.4" fill="#1d7a1d" opacity="0.04"/><rect x="370.7" y="465.5" width="8.4" height="8.4" fill="#1d7a1d" opacity="0.05"/><rect x="380.8" y="465.5" width="8.4" height="8.4" fill="#1d7a1d" opacity="0.06"/><rect x="390.9" y="465.5" width="8.4" height="8.4" fill="#1d7a1d" opacity="0.07"/><rect x="401.1" y="465.5" width="8.4" height="8.4" fill="#1d7a1d" opacity="0.07"/><rect x="411.2" y="465.5" width="8.4" height="8.4" fill="#1d7a1d" opacity="0.08"/><rect x="421.4" y="465.5" width="8.4" height="8.4" fill="#1d7a1d" opacity="0.09"/><rect x="431.5" y="465.5" width="8.4" height="8.4" fill="#1d7a1d" opacity="0.10"/><rect x="441.6" y="465.5" width="8.4" height="8.4" fill="#1d7a1d" opacity="0.10"/><rect x="451.8" y="465.5" width="8.4" height="8.4" fill="#1d7a1d" opacity="0.11"/><rect x="461.9" y="465.5" width="8.4" height="8.4" fill="#1d7a1d" opacity="0.12"/><rect x="472.0" y="465.5" width="8.4" height="8.4" fill="#1d7a1d" opacity="0.12"/><rect x="482.2" y="465.5" width="8.4" height="8.4" fill="#1d7a1d" opacity="0.13"/><rect x="492.3" y="465.5" width="8.4" height="8.4" fill="#1d7a1d" opacity="0.14"/><rect x="502.4" y="465.5" width="8.4" height="8.4" fill="#1d7a1d" opacity="0.14"/></g><g filter="url(#b07)"><ellipse cx="314.1" cy="399.0" rx="3.4" ry="3.2" fill="#27a527" opacity="0.08"/><ellipse cx="324.2" cy="399.0" rx="3.4" ry="3.2" fill="#27a527" opacity="0.14"/><ellipse cx="334.3" cy="399.0" rx="3.4" ry="3.2" fill="#27a527" opacity="0.18"/><ellipse cx="344.5" cy="399.0" rx="3.4" ry="3.2" fill="#27a527" opacity="0.22"/><ellipse cx="354.6" cy="399.0" rx="3.4" ry="3.2" fill="#27a527" opacity="0.26"/><ellipse cx="364.7" cy="399.0" rx="3.4" ry="3.2" fill="#27a527" opacity="0.30"/><ellipse cx="374.9" cy="399.0" rx="3.4" ry="3.2" fill="#27a527" opacity="0.33"/><ellipse cx="385.0" cy="399.0" rx="3.4" ry="3.2" fill="#27a527" opacity="0.36"/><ellipse cx="395.1" cy="399.0" rx="3.4" ry="3.2" fill="#27a527" opacity="0.39"/><ellipse cx="405.3" cy="399.0" rx="3.4" ry="3.2" fill="#27a527" opacity="0.42"/><ellipse cx="415.4" cy="399.0" rx="3.4" ry="3.2" fill="#27a527" opacity="0.45"/><ellipse cx="425.6" cy="399.0" rx="3.4" ry="3.2" fill="#27a527" opacity="0.48"/><ellipse cx="435.7" cy="399.0" rx="3.4" ry="3.2" fill="#27a527" opacity="0.51"/><ellipse cx="445.8" cy="399.0" rx="3.4" ry="3.2" fill="#27a527" opacity="0.54"/><ellipse cx="456.0" cy="399.0" rx="3.4" ry="3.2" fill="#27a527" opacity="0.56"/><ellipse cx="466.1" cy="399.0" rx="3.4" ry="3.2" fill="#27a527" opacity="0.59"/><ellipse cx="476.2" cy="399.0" rx="3.4" ry="3.2" fill="#27a527" opacity="0.62"/><ellipse cx="486.4" cy="399.0" rx="3.4" ry="3.2" fill="#27a527" opacity="0.64"/><ellipse cx="496.5" cy="399.0" rx="3.4" ry="3.2" fill="#27a527" opacity="0.67"/><ellipse cx="506.6" cy="399.0" rx="3.4" ry="3.2" fill="#27a527" opacity="0.69"/><ellipse cx="324.2" cy="409.1" rx="3.2" ry="3.2" fill="#27a527" opacity="0.04"/><ellipse cx="334.3" cy="409.1" rx="3.2" ry="3.2" fill="#27a527" opacity="0.08"/><ellipse cx="344.5" cy="409.1" rx="3.2" ry="3.2" fill="#27a527" opacity="0.11"/><ellipse cx="354.6" cy="409.1" rx="3.2" ry="3.2" fill="#27a527" opacity="0.13"/><ellipse cx="364.7" cy="409.1" rx="3.2" ry="3.2" fill="#27a527" opacity="0.16"/><ellipse cx="374.9" cy="409.1" rx="3.2" ry="3.2" fill="#27a527" opacity="0.18"/><ellipse cx="385.0" cy="409.1" rx="3.2" ry="3.2" fill="#27a527" opacity="0.21"/><ellipse cx="395.1" cy="409.1" rx="3.2" ry="3.2" fill="#27a527" opacity="0.23"/><ellipse cx="405.3" cy="409.1" rx="3.2" ry="3.2" fill="#27a527" opacity="0.25"/><ellipse cx="415.4" cy="409.1" rx="3.2" ry="3.2" fill="#27a527" opacity="0.28"/><ellipse cx="425.6" cy="409.1" rx="3.2" ry="3.2" fill="#27a527" opacity="0.30"/><ellipse cx="435.7" cy="409.1" rx="3.2" ry="3.2" fill="#27a527" opacity="0.32"/><ellipse cx="445.8" cy="409.1" rx="3.2" ry="3.2" fill="#27a527" opacity="0.34"/><ellipse cx="456.0" cy="409.1" rx="3.2" ry="3.2" fill="#27a527" opacity="0.36"/><ellipse cx="466.1" cy="409.1" rx="3.2" ry="3.2" fill="#27a527" opacity="0.38"/><ellipse cx="476.2" cy="409.1" rx="3.2" ry="3.2" fill="#27a527" opacity="0.40"/><ellipse cx="486.4" cy="409.1" rx="3.2" ry="3.2" fill="#27a527" opacity="0.42"/><ellipse cx="496.5" cy="409.1" rx="3.2" ry="3.2" fill="#27a527" opacity="0.44"/><ellipse cx="506.6" cy="409.1" rx="3.2" ry="3.2" fill="#27a527" opacity="0.46"/><ellipse cx="324.2" cy="419.2" rx="3.0" ry="2.8" fill="#27a527" opacity="0.03"/><ellipse cx="334.3" cy="419.2" rx="3.0" ry="2.8" fill="#27a527" opacity="0.06"/><ellipse cx="344.5" cy="419.2" rx="3.0" ry="2.8" fill="#27a527" opacity="0.09"/><ellipse cx="354.6" cy="419.2" rx="3.0" ry="2.8" fill="#27a527" opacity="0.12"/><ellipse cx="364.7" cy="419.2" rx="3.0" ry="2.8" fill="#27a527" opacity="0.15"/><ellipse cx="374.9" cy="419.2" rx="3.0" ry="2.8" fill="#27a527" opacity="0.17"/><ellipse cx="385.0" cy="419.2" rx="3.0" ry="2.8" fill="#27a527" opacity="0.20"/><ellipse cx="395.1" cy="419.2" rx="3.0" ry="2.8" fill="#27a527" opacity="0.22"/><ellipse cx="405.3" cy="419.2" rx="3.0" ry="2.8" fill="#27a527" opacity="0.25"/><ellipse cx="415.4" cy="419.2" rx="3.0" ry="2.8" fill="#27a527" opacity="0.27"/><ellipse cx="425.6" cy="419.2" rx="3.0" ry="2.8" fill="#27a527" opacity="0.30"/><ellipse cx="435.7" cy="419.2" rx="3.0" ry="2.8" fill="#27a527" opacity="0.32"/><ellipse cx="445.8" cy="419.2" rx="3.0" ry="2.8" fill="#27a527" opacity="0.34"/><ellipse cx="456.0" cy="419.2" rx="3.0" ry="2.8" fill="#27a527" opacity="0.37"/><ellipse cx="466.1" cy="419.2" rx="3.0" ry="2.8" fill="#27a527" opacity="0.39"/><ellipse cx="476.2" cy="419.2" rx="3.0" ry="2.8" fill="#27a527" opacity="0.41"/><ellipse cx="486.4" cy="419.2" rx="3.0" ry="2.8" fill="#27a527" opacity="0.44"/><ellipse cx="496.5" cy="419.2" rx="3.0" ry="2.8" fill="#27a527" opacity="0.46"/><ellipse cx="506.6" cy="419.2" rx="3.0" ry="2.8" fill="#27a527" opacity="0.48"/><ellipse cx="324.2" cy="429.3" rx="3.1" ry="2.9" fill="#27a527" opacity="0.04"/><ellipse cx="334.3" cy="429.3" rx="3.1" ry="2.9" fill="#27a527" opacity="0.08"/><ellipse cx="344.5" cy="429.3" rx="3.1" ry="2.9" fill="#27a527" opacity="0.11"/><ellipse cx="354.6" cy="429.3" rx="3.1" ry="2.9" fill="#27a527" opacity="0.14"/><ellipse cx="364.7" cy="429.3" rx="3.1" ry="2.9" fill="#27a527" opacity="0.17"/><ellipse cx="374.9" cy="429.3" rx="3.1" ry="2.9" fill="#27a527" opacity="0.20"/><ellipse cx="385.0" cy="429.3" rx="3.1" ry="2.9" fill="#27a527" opacity="0.23"/><ellipse cx="395.1" cy="429.3" rx="3.1" ry="2.9" fill="#27a527" opacity="0.26"/><ellipse cx="405.3" cy="429.3" rx="3.1" ry="2.9" fill="#27a527" opacity="0.29"/><ellipse cx="415.4" cy="429.3" rx="3.1" ry="2.9" fill="#27a527" opacity="0.32"/><ellipse cx="425.6" cy="429.3" rx="3.1" ry="2.9" fill="#27a527" opacity="0.35"/><ellipse cx="435.7" cy="429.3" rx="3.1" ry="2.9" fill="#27a527" opacity="0.38"/><ellipse cx="445.8" cy="429.3" rx="3.1" ry="2.9" fill="#27a527" opacity="0.41"/><ellipse cx="456.0" cy="429.3" rx="3.1" ry="2.9" fill="#27a527" opacity="0.44"/><ellipse cx="466.1" cy="429.3" rx="3.1" ry="2.9" fill="#27a527" opacity="0.46"/><ellipse cx="476.2" cy="429.3" rx="3.1" ry="2.9" fill="#27a527" opacity="0.49"/><ellipse cx="486.4" cy="429.3" rx="3.1" ry="2.9" fill="#27a527" opacity="0.52"/><ellipse cx="496.5" cy="429.3" rx="3.1" ry="2.9" fill="#27a527" opacity="0.55"/><ellipse cx="506.6" cy="429.3" rx="3.1" ry="2.9" fill="#27a527" opacity="0.57"/><ellipse cx="324.2" cy="439.4" rx="2.5" ry="2.5" fill="#27a527" opacity="0.02"/><ellipse cx="334.3" cy="439.4" rx="2.5" ry="2.5" fill="#27a527" opacity="0.03"/><ellipse cx="344.5" cy="439.4" rx="2.5" ry="2.5" fill="#27a527" opacity="0.05"/><ellipse cx="354.6" cy="439.4" rx="2.5" ry="2.5" fill="#27a527" opacity="0.06"/><ellipse cx="364.7" cy="439.4" rx="2.5" ry="2.5" fill="#27a527" opacity="0.08"/><ellipse cx="374.9" cy="439.4" rx="2.5" ry="2.5" fill="#27a527" opacity="0.09"/><ellipse cx="385.0" cy="439.4" rx="2.5" ry="2.5" fill="#27a527" opacity="0.10"/><ellipse cx="395.1" cy="439.4" rx="2.5" ry="2.5" fill="#27a527" opacity="0.12"/><ellipse cx="405.3" cy="439.4" rx="2.5" ry="2.5" fill="#27a527" opacity="0.13"/><ellipse cx="415.4" cy="439.4" rx="2.5" ry="2.5" fill="#27a527" opacity="0.14"/><ellipse cx="425.6" cy="439.4" rx="2.5" ry="2.5" fill="#27a527" opacity="0.15"/><ellipse cx="435.7" cy="439.4" rx="2.5" ry="2.5" fill="#27a527" opacity="0.17"/><ellipse cx="445.8" cy="439.4" rx="2.5" ry="2.5" fill="#27a527" opacity="0.18"/><ellipse cx="456.0" cy="439.4" rx="2.5" ry="2.5" fill="#27a527" opacity="0.19"/><ellipse cx="466.1" cy="439.4" rx="2.5" ry="2.5" fill="#27a527" opacity="0.20"/><ellipse cx="476.2" cy="439.4" rx="2.5" ry="2.5" fill="#27a527" opacity="0.22"/><ellipse cx="486.4" cy="439.4" rx="2.5" ry="2.5" fill="#27a527" opacity="0.23"/><ellipse cx="496.5" cy="439.4" rx="2.5" ry="2.5" fill="#27a527" opacity="0.24"/><ellipse cx="506.6" cy="439.4" rx="2.5" ry="2.5" fill="#27a527" opacity="0.25"/><ellipse cx="324.2" cy="449.5" rx="2.3" ry="3.3" fill="#27a527" opacity="0.03" transform="rotate(-25 324.2 449.5)"/><ellipse cx="334.3" cy="449.5" rx="2.3" ry="3.3" fill="#27a527" opacity="0.06" transform="rotate(-25 334.3 449.5)"/><ellipse cx="344.5" cy="449.5" rx="2.3" ry="3.3" fill="#27a527" opacity="0.09" transform="rotate(-25 344.5 449.5)"/><ellipse cx="354.6" cy="449.5" rx="2.3" ry="3.3" fill="#27a527" opacity="0.12" transform="rotate(-25 354.6 449.5)"/><ellipse cx="364.7" cy="449.5" rx="2.3" ry="3.3" fill="#27a527" opacity="0.15" transform="rotate(-25 364.7 449.5)"/><ellipse cx="374.9" cy="449.5" rx="2.3" ry="3.3" fill="#27a527" opacity="0.17" transform="rotate(-25 374.9 449.5)"/><ellipse cx="385.0" cy="449.5" rx="2.3" ry="3.3" fill="#27a527" opacity="0.20" transform="rotate(-25 385.0 449.5)"/><ellipse cx="395.1" cy="449.5" rx="2.3" ry="3.3" fill="#27a527" opacity="0.22" transform="rotate(-25 395.1 449.5)"/><ellipse cx="405.3" cy="449.5" rx="2.3" ry="3.3" fill="#27a527" opacity="0.25" transform="rotate(-25 405.3 449.5)"/><ellipse cx="415.4" cy="449.5" rx="2.3" ry="3.3" fill="#27a527" opacity="0.27" transform="rotate(-25 415.4 449.5)"/><ellipse cx="425.6" cy="449.5" rx="2.3" ry="3.3" fill="#27a527" opacity="0.30" transform="rotate(-25 425.6 449.5)"/><ellipse cx="435.7" cy="449.5" rx="2.3" ry="3.3" fill="#27a527" opacity="0.32" transform="rotate(-25 435.7 449.5)"/><ellipse cx="445.8" cy="449.5" rx="2.3" ry="3.3" fill="#27a527" opacity="0.34" transform="rotate(-25 445.8 449.5)"/><ellipse cx="456.0" cy="449.5" rx="2.3" ry="3.3" fill="#27a527" opacity="0.37" transform="rotate(-25 456.0 449.5)"/><ellipse cx="466.1" cy="449.5" rx="2.3" ry="3.3" fill="#27a527" opacity="0.39" transform="rotate(-25 466.1 449.5)"/><ellipse cx="476.2" cy="449.5" rx="2.3" ry="3.3" fill="#27a527" opacity="0.41" transform="rotate(-25 476.2 449.5)"/><ellipse cx="486.4" cy="449.5" rx="2.3" ry="3.3" fill="#27a527" opacity="0.44" transform="rotate(-25 486.4 449.5)"/><ellipse cx="496.5" cy="449.5" rx="2.3" ry="3.3" fill="#27a527" opacity="0.46" transform="rotate(-25 496.5 449.5)"/><ellipse cx="506.6" cy="449.5" rx="2.3" ry="3.3" fill="#27a527" opacity="0.48" transform="rotate(-25 506.6 449.5)"/><ellipse cx="324.2" cy="459.6" rx="2.5" ry="2.5" fill="#27a527" opacity="0.02"/><ellipse cx="334.3" cy="459.6" rx="2.5" ry="2.5" fill="#27a527" opacity="0.04"/><ellipse cx="344.5" cy="459.6" rx="2.5" ry="2.5" fill="#27a527" opacity="0.05"/><ellipse cx="354.6" cy="459.6" rx="2.5" ry="2.5" fill="#27a527" opacity="0.07"/><ellipse cx="364.7" cy="459.6" rx="2.5" ry="2.5" fill="#27a527" opacity="0.08"/><ellipse cx="374.9" cy="459.6" rx="2.5" ry="2.5" fill="#27a527" opacity="0.10"/><ellipse cx="385.0" cy="459.6" rx="2.5" ry="2.5" fill="#27a527" opacity="0.11"/><ellipse cx="395.1" cy="459.6" rx="2.5" ry="2.5" fill="#27a527" opacity="0.13"/><ellipse cx="405.3" cy="459.6" rx="2.5" ry="2.5" fill="#27a527" opacity="0.14"/><ellipse cx="415.4" cy="459.6" rx="2.5" ry="2.5" fill="#27a527" opacity="0.15"/><ellipse cx="425.6" cy="459.6" rx="2.5" ry="2.5" fill="#27a527" opacity="0.17"/><ellipse cx="435.7" cy="459.6" rx="2.5" ry="2.5" fill="#27a527" opacity="0.18"/><ellipse cx="445.8" cy="459.6" rx="2.5" ry="2.5" fill="#27a527" opacity="0.20"/><ellipse cx="456.0" cy="459.6" rx="2.5" ry="2.5" fill="#27a527" opacity="0.21"/><ellipse cx="466.1" cy="459.6" rx="2.5" ry="2.5" fill="#27a527" opacity="0.22"/><ellipse cx="476.2" cy="459.6" rx="2.5" ry="2.5" fill="#27a527" opacity="0.24"/><ellipse cx="486.4" cy="459.6" rx="2.5" ry="2.5" fill="#27a527" opacity="0.25"/><ellipse cx="496.5" cy="459.6" rx="2.5" ry="2.5" fill="#27a527" opacity="0.26"/><ellipse cx="506.6" cy="459.6" rx="2.5" ry="2.5" fill="#27a527" opacity="0.28"/><ellipse cx="324.2" cy="469.7" rx="2.6" ry="2.6" fill="#27a527" opacity="0.03"/><ellipse cx="334.3" cy="469.7" rx="2.6" ry="2.6" fill="#27a527" opacity="0.05"/><ellipse cx="344.5" cy="469.7" rx="2.6" ry="2.6" fill="#27a527" opacity="0.07"/><ellipse cx="354.6" cy="469.7" rx="2.6" ry="2.6" fill="#27a527" opacity="0.09"/><ellipse cx="364.7" cy="469.7" rx="2.6" ry="2.6" fill="#27a527" opacity="0.11"/><ellipse cx="374.9" cy="469.7" rx="2.6" ry="2.6" fill="#27a527" opacity="0.13"/><ellipse cx="385.0" cy="469.7" rx="2.6" ry="2.6" fill="#27a527" opacity="0.15"/><ellipse cx="395.1" cy="469.7" rx="2.6" ry="2.6" fill="#27a527" opacity="0.17"/><ellipse cx="405.3" cy="469.7" rx="2.6" ry="2.6" fill="#27a527" opacity="0.19"/><ellipse cx="415.4" cy="469.7" rx="2.6" ry="2.6" fill="#27a527" opacity="0.21"/><ellipse cx="425.6" cy="469.7" rx="2.6" ry="2.6" fill="#27a527" opacity="0.23"/><ellipse cx="435.7" cy="469.7" rx="2.6" ry="2.6" fill="#27a527" opacity="0.24"/><ellipse cx="445.8" cy="469.7" rx="2.6" ry="2.6" fill="#27a527" opacity="0.26"/><ellipse cx="456.0" cy="469.7" rx="2.6" ry="2.6" fill="#27a527" opacity="0.28"/><ellipse cx="466.1" cy="469.7" rx="2.6" ry="2.6" fill="#27a527" opacity="0.30"/><ellipse cx="476.2" cy="469.7" rx="2.6" ry="2.6" fill="#27a527" opacity="0.32"/><ellipse cx="486.4" cy="469.7" rx="2.6" ry="2.6" fill="#27a527" opacity="0.33"/><ellipse cx="496.5" cy="469.7" rx="2.6" ry="2.6" fill="#27a527" opacity="0.35"/><ellipse cx="506.6" cy="469.7" rx="2.6" ry="2.6" fill="#27a527" opacity="0.37"/></g><g filter="url(#b05)"><ellipse cx="313.8" cy="398.7" rx="2.0" ry="1.8" fill="#78ff68" opacity="0.07"/><ellipse cx="323.9" cy="398.7" rx="2.0" ry="1.8" fill="#78ff68" opacity="0.11"/><ellipse cx="334.0" cy="398.7" rx="2.0" ry="1.8" fill="#78ff68" opacity="0.15"/><ellipse cx="344.2" cy="398.7" rx="2.0" ry="1.8" fill="#78ff68" opacity="0.18"/><ellipse cx="354.3" cy="398.7" rx="2.0" ry="1.8" fill="#78ff68" opacity="0.21"/><ellipse cx="364.4" cy="398.7" rx="2.0" ry="1.8" fill="#78ff68" opacity="0.24"/><ellipse cx="374.6" cy="398.7" rx="2.0" ry="1.8" fill="#78ff68" opacity="0.26"/><ellipse cx="384.7" cy="398.7" rx="2.0" ry="1.8" fill="#78ff68" opacity="0.29"/><ellipse cx="394.8" cy="398.7" rx="2.0" ry="1.8" fill="#78ff68" opacity="0.31"/><ellipse cx="405.0" cy="398.7" rx="2.0" ry="1.8" fill="#78ff68" opacity="0.34"/><ellipse cx="415.1" cy="398.7" rx="2.0" ry="1.8" fill="#78ff68" opacity="0.36"/><ellipse cx="425.3" cy="398.7" rx="2.0" ry="1.8" fill="#78ff68" opacity="0.38"/><ellipse cx="435.4" cy="398.7" rx="2.0" ry="1.8" fill="#78ff68" opacity="0.41"/><ellipse cx="445.5" cy="398.7" rx="2.0" ry="1.8" fill="#78ff68" opacity="0.43"/><ellipse cx="455.7" cy="398.7" rx="2.0" ry="1.8" fill="#78ff68" opacity="0.45"/><ellipse cx="465.8" cy="398.7" rx="2.0" ry="1.8" fill="#78ff68" opacity="0.47"/><ellipse cx="475.9" cy="398.7" rx="2.0" ry="1.8" fill="#78ff68" opacity="0.49"/><ellipse cx="486.1" cy="398.7" rx="2.0" ry="1.8" fill="#78ff68" opacity="0.51"/><ellipse cx="496.2" cy="398.7" rx="2.0" ry="1.8" fill="#78ff68" opacity="0.53"/><ellipse cx="506.3" cy="398.7" rx="2.0" ry="1.8" fill="#78ff68" opacity="0.55"/><ellipse cx="324.2" cy="409.1" rx="1.4" ry="1.4" fill="#061206" opacity="0.55"/><ellipse cx="334.3" cy="409.1" rx="1.4" ry="1.4" fill="#061206" opacity="0.58"/><ellipse cx="344.5" cy="409.1" rx="1.4" ry="1.4" fill="#061206" opacity="0.61"/><ellipse cx="354.6" cy="409.1" rx="1.4" ry="1.4" fill="#061206" opacity="0.64"/><ellipse cx="364.7" cy="409.1" rx="1.4" ry="1.4" fill="#061206" opacity="0.67"/><ellipse cx="374.9" cy="409.1" rx="1.4" ry="1.4" fill="#061206" opacity="0.70"/><ellipse cx="385.0" cy="409.1" rx="1.4" ry="1.4" fill="#061206" opacity="0.72"/><ellipse cx="395.1" cy="409.1" rx="1.4" ry="1.4" fill="#061206" opacity="0.75"/><ellipse cx="405.3" cy="409.1" rx="1.4" ry="1.4" fill="#061206" opacity="0.78"/><ellipse cx="415.4" cy="409.1" rx="1.4" ry="1.4" fill="#061206" opacity="0.80"/><ellipse cx="425.6" cy="409.1" rx="1.4" ry="1.4" fill="#061206" opacity="0.82"/><ellipse cx="435.7" cy="409.1" rx="1.4" ry="1.4" fill="#061206" opacity="0.85"/><ellipse cx="445.8" cy="409.1" rx="1.4" ry="1.4" fill="#061206" opacity="0.87"/><ellipse cx="456.0" cy="409.1" rx="1.4" ry="1.4" fill="#061206" opacity="0.89"/><ellipse cx="466.1" cy="409.1" rx="1.4" ry="1.4" fill="#061206" opacity="0.91"/><ellipse cx="476.2" cy="409.1" rx="1.4" ry="1.4" fill="#061206" opacity="0.94"/><ellipse cx="486.4" cy="409.1" rx="1.4" ry="1.4" fill="#061206" opacity="0.96"/><ellipse cx="496.5" cy="409.1" rx="1.4" ry="1.4" fill="#061206" opacity="0.98"/><ellipse cx="506.6" cy="409.1" rx="1.4" ry="1.4" fill="#061206" opacity="1.00"/><ellipse cx="323.6" cy="418.6" rx="1.2" ry="1.2" fill="#78ff68" opacity="0.05"/><ellipse cx="333.7" cy="418.6" rx="1.2" ry="1.2" fill="#78ff68" opacity="0.10"/><ellipse cx="343.9" cy="418.6" rx="1.2" ry="1.2" fill="#78ff68" opacity="0.14"/><ellipse cx="354.0" cy="418.6" rx="1.2" ry="1.2" fill="#78ff68" opacity="0.18"/><ellipse cx="364.1" cy="418.6" rx="1.2" ry="1.2" fill="#78ff68" opacity="0.23"/><ellipse cx="374.3" cy="418.6" rx="1.2" ry="1.2" fill="#78ff68" opacity="0.27"/><ellipse cx="384.4" cy="418.6" rx="1.2" ry="1.2" fill="#78ff68" opacity="0.31"/><ellipse cx="394.5" cy="418.6" rx="1.2" ry="1.2" fill="#78ff68" opacity="0.34"/><ellipse cx="404.7" cy="418.6" rx="1.2" ry="1.2" fill="#78ff68" opacity="0.38"/><ellipse cx="414.8" cy="418.6" rx="1.2" ry="1.2" fill="#78ff68" opacity="0.42"/><ellipse cx="425.0" cy="418.6" rx="1.2" ry="1.2" fill="#78ff68" opacity="0.46"/><ellipse cx="435.1" cy="418.6" rx="1.2" ry="1.2" fill="#78ff68" opacity="0.50"/><ellipse cx="445.2" cy="418.6" rx="1.2" ry="1.2" fill="#78ff68" opacity="0.53"/><ellipse cx="455.4" cy="418.6" rx="1.2" ry="1.2" fill="#78ff68" opacity="0.57"/><ellipse cx="465.5" cy="418.6" rx="1.2" ry="1.2" fill="#78ff68" opacity="0.61"/><ellipse cx="475.6" cy="418.6" rx="1.2" ry="1.2" fill="#78ff68" opacity="0.64"/><ellipse cx="485.8" cy="418.6" rx="1.2" ry="1.2" fill="#78ff68" opacity="0.68"/><ellipse cx="495.9" cy="418.6" rx="1.2" ry="1.2" fill="#78ff68" opacity="0.71"/><ellipse cx="506.0" cy="418.6" rx="1.2" ry="1.2" fill="#78ff68" opacity="0.75"/><ellipse cx="324.2" cy="429.3" rx="1.7" ry="1.6" fill="#78ff68" opacity="0.03"/><ellipse cx="334.3" cy="429.3" rx="1.7" ry="1.6" fill="#78ff68" opacity="0.06"/><ellipse cx="344.5" cy="429.3" rx="1.7" ry="1.6" fill="#78ff68" opacity="0.09"/><ellipse cx="354.6" cy="429.3" rx="1.7" ry="1.6" fill="#78ff68" opacity="0.11"/><ellipse cx="364.7" cy="429.3" rx="1.7" ry="1.6" fill="#78ff68" opacity="0.14"/><ellipse cx="374.9" cy="429.3" rx="1.7" ry="1.6" fill="#78ff68" opacity="0.16"/><ellipse cx="385.0" cy="429.3" rx="1.7" ry="1.6" fill="#78ff68" opacity="0.18"/><ellipse cx="395.1" cy="429.3" rx="1.7" ry="1.6" fill="#78ff68" opacity="0.21"/><ellipse cx="405.3" cy="429.3" rx="1.7" ry="1.6" fill="#78ff68" opacity="0.23"/><ellipse cx="415.4" cy="429.3" rx="1.7" ry="1.6" fill="#78ff68" opacity="0.25"/><ellipse cx="425.6" cy="429.3" rx="1.7" ry="1.6" fill="#78ff68" opacity="0.28"/><ellipse cx="435.7" cy="429.3" rx="1.7" ry="1.6" fill="#78ff68" opacity="0.30"/><ellipse cx="445.8" cy="429.3" rx="1.7" ry="1.6" fill="#78ff68" opacity="0.32"/><ellipse cx="456.0" cy="429.3" rx="1.7" ry="1.6" fill="#78ff68" opacity="0.34"/><ellipse cx="466.1" cy="429.3" rx="1.7" ry="1.6" fill="#78ff68" opacity="0.36"/><ellipse cx="476.2" cy="429.3" rx="1.7" ry="1.6" fill="#78ff68" opacity="0.39"/><ellipse cx="486.4" cy="429.3" rx="1.7" ry="1.6" fill="#78ff68" opacity="0.41"/><ellipse cx="496.5" cy="429.3" rx="1.7" ry="1.6" fill="#78ff68" opacity="0.43"/><ellipse cx="506.6" cy="429.3" rx="1.7" ry="1.6" fill="#78ff68" opacity="0.45"/><ellipse cx="324.7" cy="439.1" rx="1.1" ry="1.1" fill="#78ff68" opacity="0.06"/><ellipse cx="334.8" cy="439.1" rx="1.1" ry="1.1" fill="#78ff68" opacity="0.11"/><ellipse cx="345.0" cy="439.1" rx="1.1" ry="1.1" fill="#78ff68" opacity="0.15"/><ellipse cx="355.1" cy="439.1" rx="1.1" ry="1.1" fill="#78ff68" opacity="0.20"/><ellipse cx="365.2" cy="439.1" rx="1.1" ry="1.1" fill="#78ff68" opacity="0.24"/><ellipse cx="375.4" cy="439.1" rx="1.1" ry="1.1" fill="#78ff68" opacity="0.28"/><ellipse cx="385.5" cy="439.1" rx="1.1" ry="1.1" fill="#78ff68" opacity="0.33"/><ellipse cx="395.6" cy="439.1" rx="1.1" ry="1.1" fill="#78ff68" opacity="0.37"/><ellipse cx="405.8" cy="439.1" rx="1.1" ry="1.1" fill="#78ff68" opacity="0.41"/><ellipse cx="415.9" cy="439.1" rx="1.1" ry="1.1" fill="#78ff68" opacity="0.45"/><ellipse cx="426.1" cy="439.1" rx="1.1" ry="1.1" fill="#78ff68" opacity="0.49"/><ellipse cx="436.2" cy="439.1" rx="1.1" ry="1.1" fill="#78ff68" opacity="0.53"/><ellipse cx="446.3" cy="439.1" rx="1.1" ry="1.1" fill="#78ff68" opacity="0.57"/><ellipse cx="456.5" cy="439.1" rx="1.1" ry="1.1" fill="#78ff68" opacity="0.61"/><ellipse cx="466.6" cy="439.1" rx="1.1" ry="1.1" fill="#78ff68" opacity="0.65"/><ellipse cx="476.7" cy="439.1" rx="1.1" ry="1.1" fill="#78ff68" opacity="0.69"/><ellipse cx="486.9" cy="439.1" rx="1.1" ry="1.1" fill="#78ff68" opacity="0.72"/><ellipse cx="497.0" cy="439.1" rx="1.1" ry="1.1" fill="#78ff68" opacity="0.76"/><ellipse cx="507.1" cy="439.1" rx="1.1" ry="1.1" fill="#78ff68" opacity="0.80"/><ellipse cx="324.4" cy="449.5" rx="1.2" ry="1.8" fill="#78ff68" opacity="0.04"/><ellipse cx="334.5" cy="449.5" rx="1.2" ry="1.8" fill="#78ff68" opacity="0.08"/><ellipse cx="344.7" cy="449.5" rx="1.2" ry="1.8" fill="#78ff68" opacity="0.11"/><ellipse cx="354.8" cy="449.5" rx="1.2" ry="1.8" fill="#78ff68" opacity="0.15"/><ellipse cx="364.9" cy="449.5" rx="1.2" ry="1.8" fill="#78ff68" opacity="0.18"/><ellipse cx="375.1" cy="449.5" rx="1.2" ry="1.8" fill="#78ff68" opacity="0.21"/><ellipse cx="385.2" cy="449.5" rx="1.2" ry="1.8" fill="#78ff68" opacity="0.24"/><ellipse cx="395.3" cy="449.5" rx="1.2" ry="1.8" fill="#78ff68" opacity="0.28"/><ellipse cx="405.5" cy="449.5" rx="1.2" ry="1.8" fill="#78ff68" opacity="0.31"/><ellipse cx="415.6" cy="449.5" rx="1.2" ry="1.8" fill="#78ff68" opacity="0.34"/><ellipse cx="425.8" cy="449.5" rx="1.2" ry="1.8" fill="#78ff68" opacity="0.37"/><ellipse cx="435.9" cy="449.5" rx="1.2" ry="1.8" fill="#78ff68" opacity="0.40"/><ellipse cx="446.0" cy="449.5" rx="1.2" ry="1.8" fill="#78ff68" opacity="0.43"/><ellipse cx="456.2" cy="449.5" rx="1.2" ry="1.8" fill="#78ff68" opacity="0.46"/><ellipse cx="466.3" cy="449.5" rx="1.2" ry="1.8" fill="#78ff68" opacity="0.49"/><ellipse cx="476.4" cy="449.5" rx="1.2" ry="1.8" fill="#78ff68" opacity="0.51"/><ellipse cx="486.6" cy="449.5" rx="1.2" ry="1.8" fill="#78ff68" opacity="0.54"/><ellipse cx="496.7" cy="449.5" rx="1.2" ry="1.8" fill="#78ff68" opacity="0.57"/><ellipse cx="506.8" cy="449.5" rx="1.2" ry="1.8" fill="#78ff68" opacity="0.60"/><ellipse cx="324.2" cy="459.6" rx="1.1" ry="1.1" fill="#78ff68" opacity="0.05"/><ellipse cx="334.3" cy="459.6" rx="1.1" ry="1.1" fill="#78ff68" opacity="0.09"/><ellipse cx="344.5" cy="459.6" rx="1.1" ry="1.1" fill="#78ff68" opacity="0.13"/><ellipse cx="354.6" cy="459.6" rx="1.1" ry="1.1" fill="#78ff68" opacity="0.17"/><ellipse cx="364.7" cy="459.6" rx="1.1" ry="1.1" fill="#78ff68" opacity="0.21"/><ellipse cx="374.9" cy="459.6" rx="1.1" ry="1.1" fill="#78ff68" opacity="0.25"/><ellipse cx="385.0" cy="459.6" rx="1.1" ry="1.1" fill="#78ff68" opacity="0.28"/><ellipse cx="395.1" cy="459.6" rx="1.1" ry="1.1" fill="#78ff68" opacity="0.32"/><ellipse cx="405.3" cy="459.6" rx="1.1" ry="1.1" fill="#78ff68" opacity="0.36"/><ellipse cx="415.4" cy="459.6" rx="1.1" ry="1.1" fill="#78ff68" opacity="0.39"/><ellipse cx="425.6" cy="459.6" rx="1.1" ry="1.1" fill="#78ff68" opacity="0.43"/><ellipse cx="435.7" cy="459.6" rx="1.1" ry="1.1" fill="#78ff68" opacity="0.46"/><ellipse cx="445.8" cy="459.6" rx="1.1" ry="1.1" fill="#78ff68" opacity="0.50"/><ellipse cx="456.0" cy="459.6" rx="1.1" ry="1.1" fill="#78ff68" opacity="0.53"/><ellipse cx="466.1" cy="459.6" rx="1.1" ry="1.1" fill="#78ff68" opacity="0.57"/><ellipse cx="476.2" cy="459.6" rx="1.1" ry="1.1" fill="#78ff68" opacity="0.60"/><ellipse cx="486.4" cy="459.6" rx="1.1" ry="1.1" fill="#78ff68" opacity="0.63"/><ellipse cx="496.5" cy="459.6" rx="1.1" ry="1.1" fill="#78ff68" opacity="0.67"/><ellipse cx="506.6" cy="459.6" rx="1.1" ry="1.1" fill="#78ff68" opacity="0.70"/><ellipse cx="324.2" cy="469.7" rx="1.1" ry="1.1" fill="#061206" opacity="0.54"/><ellipse cx="324.8" cy="469.7" rx="1.0" ry="1.0" fill="#78ff68" opacity="0.04"/><ellipse cx="334.3" cy="469.7" rx="1.1" ry="1.1" fill="#061206" opacity="0.57"/><ellipse cx="334.9" cy="469.7" rx="1.0" ry="1.0" fill="#78ff68" opacity="0.07"/><ellipse cx="344.5" cy="469.7" rx="1.1" ry="1.1" fill="#061206" opacity="0.59"/><ellipse cx="345.1" cy="469.7" rx="1.0" ry="1.0" fill="#78ff68" opacity="0.10"/><ellipse cx="354.6" cy="469.7" rx="1.1" ry="1.1" fill="#061206" opacity="0.62"/><ellipse cx="355.2" cy="469.7" rx="1.0" ry="1.0" fill="#78ff68" opacity="0.14"/><ellipse cx="364.7" cy="469.7" rx="1.1" ry="1.1" fill="#061206" opacity="0.65"/><ellipse cx="365.3" cy="469.7" rx="1.0" ry="1.0" fill="#78ff68" opacity="0.17"/><ellipse cx="374.9" cy="469.7" rx="1.1" ry="1.1" fill="#061206" opacity="0.68"/><ellipse cx="375.5" cy="469.7" rx="1.0" ry="1.0" fill="#78ff68" opacity="0.19"/><ellipse cx="385.0" cy="469.7" rx="1.1" ry="1.1" fill="#061206" opacity="0.70"/><ellipse cx="385.6" cy="469.7" rx="1.0" ry="1.0" fill="#78ff68" opacity="0.22"/><ellipse cx="395.1" cy="469.7" rx="1.1" ry="1.1" fill="#061206" opacity="0.73"/><ellipse cx="395.8" cy="469.7" rx="1.0" ry="1.0" fill="#78ff68" opacity="0.25"/><ellipse cx="405.3" cy="469.7" rx="1.1" ry="1.1" fill="#061206" opacity="0.76"/><ellipse cx="405.9" cy="469.7" rx="1.0" ry="1.0" fill="#78ff68" opacity="0.28"/><ellipse cx="415.4" cy="469.7" rx="1.1" ry="1.1" fill="#061206" opacity="0.78"/><ellipse cx="416.0" cy="469.7" rx="1.0" ry="1.0" fill="#78ff68" opacity="0.31"/><ellipse cx="425.6" cy="469.7" rx="1.1" ry="1.1" fill="#061206" opacity="0.81"/><ellipse cx="426.2" cy="469.7" rx="1.0" ry="1.0" fill="#78ff68" opacity="0.34"/><ellipse cx="435.7" cy="469.7" rx="1.1" ry="1.1" fill="#061206" opacity="0.83"/><ellipse cx="436.3" cy="469.7" rx="1.0" ry="1.0" fill="#78ff68" opacity="0.36"/><ellipse cx="445.8" cy="469.7" rx="1.1" ry="1.1" fill="#061206" opacity="0.86"/><ellipse cx="446.4" cy="469.7" rx="1.0" ry="1.0" fill="#78ff68" opacity="0.39"/><ellipse cx="456.0" cy="469.7" rx="1.1" ry="1.1" fill="#061206" opacity="0.88"/><ellipse cx="456.6" cy="469.7" rx="1.0" ry="1.0" fill="#78ff68" opacity="0.42"/><ellipse cx="466.1" cy="469.7" rx="1.1" ry="1.1" fill="#061206" opacity="0.90"/><ellipse cx="466.7" cy="469.7" rx="1.0" ry="1.0" fill="#78ff68" opacity="0.44"/><ellipse cx="476.2" cy="469.7" rx="1.1" ry="1.1" fill="#061206" opacity="0.93"/><ellipse cx="476.8" cy="469.7" rx="1.0" ry="1.0" fill="#78ff68" opacity="0.47"/><ellipse cx="486.4" cy="469.7" rx="1.1" ry="1.1" fill="#061206" opacity="0.95"/><ellipse cx="487.0" cy="469.7" rx="1.0" ry="1.0" fill="#78ff68" opacity="0.50"/><ellipse cx="496.5" cy="469.7" rx="1.1" ry="1.1" fill="#061206" opacity="0.98"/><ellipse cx="497.1" cy="469.7" rx="1.0" ry="1.0" fill="#78ff68" opacity="0.52"/><ellipse cx="506.6" cy="469.7" rx="1.1" ry="1.1" fill="#061206" opacity="1.00"/><ellipse cx="507.2" cy="469.7" rx="1.0" ry="1.0" fill="#78ff68" opacity="0.55"/></g>
<path d="M288.73 393.9V474.8M298.87 393.9V474.8M309.00 393.9V474.8M319.14 393.9V474.8M329.27 393.9V474.8M339.41 393.9V474.8M349.54 393.9V474.8M359.68 393.9V474.8M369.81 393.9V474.8M379.95 393.9V474.8M390.08 393.9V474.8M400.22 393.9V474.8M410.35 393.9V474.8M420.49 393.9V474.8M430.62 393.9V474.8M440.76 393.9V474.8M450.89 393.9V474.8M461.03 393.9V474.8M471.16 393.9V474.8M481.30 393.9V474.8M491.43 393.9V474.8M501.57 393.9V474.8" stroke="#a088a6" stroke-width="0.75" opacity="0.48" fill="none"/><path d="M278.6 404.01H511.7" stroke="#a987b0" stroke-width="0.9" opacity="0.5"/><path d="M278.6 414.12H511.7" stroke="#d8c8da" stroke-width="0.9" opacity="0.72"/><path d="M278.6 424.24H511.7" stroke="#a987b0" stroke-width="0.9" opacity="0.5"/><path d="M278.6 434.35H511.7" stroke="#d8c8da" stroke-width="0.9" opacity="0.72"/><path d="M278.6 444.46H511.7" stroke="#a987b0" stroke-width="0.9" opacity="0.5"/><path d="M278.6 454.57H511.7" stroke="#d8c8da" stroke-width="0.9" opacity="0.7"/><path d="M278.6 464.69H511.7" stroke="#a987b0" stroke-width="0.9" opacity="0.5"/>
<rect x="41.8" y="487.4" width="232.5" height="81.0" fill="#060606"/>
<rect x="278.0" y="487.4" width="232.9" height="81.0" fill="#060606"/>
<path d="M51.91 487.4V568.4M62.02 487.4V568.4M72.13 487.4V568.4M82.23 487.4V568.4M92.34 487.4V568.4M102.45 487.4V568.4M112.56 487.4V568.4M122.67 487.4V568.4M132.78 487.4V568.4M142.89 487.4V568.4M153.00 487.4V568.4M163.10 487.4V568.4M173.21 487.4V568.4M183.32 487.4V568.4M193.43 487.4V568.4M203.54 487.4V568.4M213.65 487.4V568.4M223.76 487.4V568.4M233.87 487.4V568.4M243.97 487.4V568.4M254.08 487.4V568.4M264.19 487.4V568.4" stroke="#ccc" stroke-width="0.75" opacity="0.55" fill="none"/><path d="M41.8 497.52H274.3" stroke="#ddd" stroke-width="0.9" opacity="0.7"/><path d="M41.8 507.65H274.3" stroke="#ccc" stroke-width="0.9" opacity="0.45"/><path d="M41.8 517.77H274.3" stroke="#ddd" stroke-width="0.9" opacity="0.7"/><path d="M41.8 527.90H274.3" stroke="#ccc" stroke-width="0.9" opacity="0.4"/><path d="M41.8 538.02H274.3" stroke="#ddd" stroke-width="0.9" opacity="0.7"/><path d="M41.8 548.15H274.3" stroke="#ccc" stroke-width="0.9" opacity="0.45"/><path d="M41.8 558.27H274.3" stroke="#ddd" stroke-width="0.9" opacity="0.7"/>
<g filter="url(#b1)"><rect x="349.7" y="488.3" width="8.4" height="8.4" fill="#1d7a1d" opacity="0.00"/><rect x="359.9" y="488.3" width="8.4" height="8.4" fill="#1d7a1d" opacity="0.01"/><rect x="370.0" y="488.3" width="8.4" height="8.4" fill="#1d7a1d" opacity="0.01"/><rect x="380.1" y="488.3" width="8.4" height="8.4" fill="#1d7a1d" opacity="0.01"/><rect x="390.2" y="488.3" width="8.4" height="8.4" fill="#1d7a1d" opacity="0.02"/><rect x="400.4" y="488.3" width="8.4" height="8.4" fill="#1d7a1d" opacity="0.02"/><rect x="410.5" y="488.3" width="8.4" height="8.4" fill="#1d7a1d" opacity="0.02"/><rect x="420.6" y="488.3" width="8.4" height="8.4" fill="#1d7a1d" opacity="0.03"/><rect x="430.8" y="488.3" width="8.4" height="8.4" fill="#1d7a1d" opacity="0.03"/><rect x="440.9" y="488.3" width="8.4" height="8.4" fill="#1d7a1d" opacity="0.03"/><rect x="451.0" y="488.3" width="8.4" height="8.4" fill="#1d7a1d" opacity="0.04"/><rect x="461.1" y="488.3" width="8.4" height="8.4" fill="#1d7a1d" opacity="0.04"/><rect x="471.3" y="488.3" width="8.4" height="8.4" fill="#1d7a1d" opacity="0.04"/><rect x="481.4" y="488.3" width="8.4" height="8.4" fill="#1d7a1d" opacity="0.05"/><rect x="491.5" y="488.3" width="8.4" height="8.4" fill="#1d7a1d" opacity="0.05"/><rect x="501.6" y="488.3" width="8.4" height="8.4" fill="#1d7a1d" opacity="0.05"/><rect x="329.5" y="498.4" width="8.4" height="8.4" fill="#1d7a1d" opacity="0.01"/><rect x="339.6" y="498.4" width="8.4" height="8.4" fill="#1d7a1d" opacity="0.02"/><rect x="349.7" y="498.4" width="8.4" height="8.4" fill="#1d7a1d" opacity="0.03"/><rect x="359.9" y="498.4" width="8.4" height="8.4" fill="#1d7a1d" opacity="0.03"/><rect x="370.0" y="498.4" width="8.4" height="8.4" fill="#1d7a1d" opacity="0.04"/><rect x="380.1" y="498.4" width="8.4" height="8.4" fill="#1d7a1d" opacity="0.05"/><rect x="390.2" y="498.4" width="8.4" height="8.4" fill="#1d7a1d" opacity="0.06"/><rect x="400.4" y="498.4" width="8.4" height="8.4" fill="#1d7a1d" opacity="0.07"/><rect x="410.5" y="498.4" width="8.4" height="8.4" fill="#1d7a1d" opacity="0.07"/><rect x="420.6" y="498.4" width="8.4" height="8.4" fill="#1d7a1d" opacity="0.08"/><rect x="430.8" y="498.4" width="8.4" height="8.4" fill="#1d7a1d" opacity="0.09"/><rect x="440.9" y="498.4" width="8.4" height="8.4" fill="#1d7a1d" opacity="0.09"/><rect x="451.0" y="498.4" width="8.4" height="8.4" fill="#1d7a1d" opacity="0.10"/><rect x="461.1" y="498.4" width="8.4" height="8.4" fill="#1d7a1d" opacity="0.11"/><rect x="471.3" y="498.4" width="8.4" height="8.4" fill="#1d7a1d" opacity="0.11"/><rect x="481.4" y="498.4" width="8.4" height="8.4" fill="#1d7a1d" opacity="0.12"/><rect x="491.5" y="498.4" width="8.4" height="8.4" fill="#1d7a1d" opacity="0.13"/><rect x="501.6" y="498.4" width="8.4" height="8.4" fill="#1d7a1d" opacity="0.14"/><rect x="329.5" y="508.5" width="8.4" height="8.4" fill="#1d7a1d" opacity="0.01"/><rect x="339.6" y="508.5" width="8.4" height="8.4" fill="#1d7a1d" opacity="0.01"/><rect x="349.7" y="508.5" width="8.4" height="8.4" fill="#1d7a1d" opacity="0.02"/><rect x="359.9" y="508.5" width="8.4" height="8.4" fill="#1d7a1d" opacity="0.03"/><rect x="370.0" y="508.5" width="8.4" height="8.4" fill="#1d7a1d" opacity="0.03"/><rect x="380.1" y="508.5" width="8.4" height="8.4" fill="#1d7a1d" opacity="0.04"/><rect x="390.2" y="508.5" width="8.4" height="8.4" fill="#1d7a1d" opacity="0.04"/><rect x="400.4" y="508.5" width="8.4" height="8.4" fill="#1d7a1d" opacity="0.05"/><rect x="410.5" y="508.5" width="8.4" height="8.4" fill="#1d7a1d" opacity="0.05"/><rect x="420.6" y="508.5" width="8.4" height="8.4" fill="#1d7a1d" opacity="0.06"/><rect x="430.8" y="508.5" width="8.4" height="8.4" fill="#1d7a1d" opacity="0.06"/><rect x="440.9" y="508.5" width="8.4" height="8.4" fill="#1d7a1d" opacity="0.07"/><rect x="451.0" y="508.5" width="8.4" height="8.4" fill="#1d7a1d" opacity="0.07"/><rect x="461.1" y="508.5" width="8.4" height="8.4" fill="#1d7a1d" opacity="0.08"/><rect x="471.3" y="508.5" width="8.4" height="8.4" fill="#1d7a1d" opacity="0.08"/><rect x="481.4" y="508.5" width="8.4" height="8.4" fill="#1d7a1d" opacity="0.09"/><rect x="491.5" y="508.5" width="8.4" height="8.4" fill="#1d7a1d" opacity="0.09"/><rect x="501.6" y="508.5" width="8.4" height="8.4" fill="#1d7a1d" opacity="0.10"/><rect x="319.4" y="518.6" width="8.4" height="8.4" fill="#1d7a1d" opacity="0.02"/><rect x="329.5" y="518.6" width="8.4" height="8.4" fill="#1d7a1d" opacity="0.03"/><rect x="339.6" y="518.6" width="8.4" height="8.4" fill="#1d7a1d" opacity="0.04"/><rect x="349.7" y="518.6" width="8.4" height="8.4" fill="#1d7a1d" opacity="0.05"/><rect x="359.9" y="518.6" width="8.4" height="8.4" fill="#1d7a1d" opacity="0.06"/><rect x="370.0" y="518.6" width="8.4" height="8.4" fill="#1d7a1d" opacity="0.07"/><rect x="380.1" y="518.6" width="8.4" height="8.4" fill="#1d7a1d" opacity="0.08"/><rect x="390.2" y="518.6" width="8.4" height="8.4" fill="#1d7a1d" opacity="0.09"/><rect x="400.4" y="518.6" width="8.4" height="8.4" fill="#1d7a1d" opacity="0.10"/><rect x="410.5" y="518.6" width="8.4" height="8.4" fill="#1d7a1d" opacity="0.10"/><rect x="420.6" y="518.6" width="8.4" height="8.4" fill="#1d7a1d" opacity="0.11"/><rect x="430.8" y="518.6" width="8.4" height="8.4" fill="#1d7a1d" opacity="0.12"/><rect x="440.9" y="518.6" width="8.4" height="8.4" fill="#1d7a1d" opacity="0.12"/><rect x="451.0" y="518.6" width="8.4" height="8.4" fill="#1d7a1d" opacity="0.13"/><rect x="461.1" y="518.6" width="8.4" height="8.4" fill="#1d7a1d" opacity="0.14"/><rect x="471.3" y="518.6" width="8.4" height="8.4" fill="#1d7a1d" opacity="0.14"/><rect x="481.4" y="518.6" width="8.4" height="8.4" fill="#1d7a1d" opacity="0.15"/><rect x="491.5" y="518.6" width="8.4" height="8.4" fill="#1d7a1d" opacity="0.16"/><rect x="501.6" y="518.6" width="8.4" height="8.4" fill="#1d7a1d" opacity="0.16"/><rect x="319.4" y="528.8" width="8.4" height="8.4" fill="#1d7a1d" opacity="0.01"/><rect x="329.5" y="528.8" width="8.4" height="8.4" fill="#1d7a1d" opacity="0.01"/><rect x="339.6" y="528.8" width="8.4" height="8.4" fill="#1d7a1d" opacity="0.01"/><rect x="349.7" y="528.8" width="8.4" height="8.4" fill="#1d7a1d" opacity="0.02"/><rect x="359.9" y="528.8" width="8.4" height="8.4" fill="#1d7a1d" opacity="0.02"/><rect x="370.0" y="528.8" width="8.4" height="8.4" fill="#1d7a1d" opacity="0.03"/><rect x="380.1" y="528.8" width="8.4" height="8.4" fill="#1d7a1d" opacity="0.03"/><rect x="390.2" y="528.8" width="8.4" height="8.4" fill="#1d7a1d" opacity="0.03"/><rect x="400.4" y="528.8" width="8.4" height="8.4" fill="#1d7a1d" opacity="0.03"/><rect x="410.5" y="528.8" width="8.4" height="8.4" fill="#1d7a1d" opacity="0.04"/><rect x="420.6" y="528.8" width="8.4" height="8.4" fill="#1d7a1d" opacity="0.04"/><rect x="430.8" y="528.8" width="8.4" height="8.4" fill="#1d7a1d" opacity="0.04"/><rect x="440.9" y="528.8" width="8.4" height="8.4" fill="#1d7a1d" opacity="0.05"/><rect x="451.0" y="528.8" width="8.4" height="8.4" fill="#1d7a1d" opacity="0.05"/><rect x="461.1" y="528.8" width="8.4" height="8.4" fill="#1d7a1d" opacity="0.05"/><rect x="471.3" y="528.8" width="8.4" height="8.4" fill="#1d7a1d" opacity="0.05"/><rect x="481.4" y="528.8" width="8.4" height="8.4" fill="#1d7a1d" opacity="0.06"/><rect x="491.5" y="528.8" width="8.4" height="8.4" fill="#1d7a1d" opacity="0.06"/><rect x="501.6" y="528.8" width="8.4" height="8.4" fill="#1d7a1d" opacity="0.06"/><rect x="370.0" y="538.9" width="8.4" height="8.4" fill="#1d7a1d" opacity="0.00"/><rect x="380.1" y="538.9" width="8.4" height="8.4" fill="#1d7a1d" opacity="0.01"/><rect x="390.2" y="538.9" width="8.4" height="8.4" fill="#1d7a1d" opacity="0.01"/><rect x="400.4" y="538.9" width="8.4" height="8.4" fill="#1d7a1d" opacity="0.01"/><rect x="410.5" y="538.9" width="8.4" height="8.4" fill="#1d7a1d" opacity="0.01"/><rect x="420.6" y="538.9" width="8.4" height="8.4" fill="#1d7a1d" opacity="0.02"/><rect x="430.8" y="538.9" width="8.4" height="8.4" fill="#1d7a1d" opacity="0.02"/><rect x="440.9" y="538.9" width="8.4" height="8.4" fill="#1d7a1d" opacity="0.02"/><rect x="451.0" y="538.9" width="8.4" height="8.4" fill="#1d7a1d" opacity="0.02"/><rect x="461.1" y="538.9" width="8.4" height="8.4" fill="#1d7a1d" opacity="0.03"/><rect x="471.3" y="538.9" width="8.4" height="8.4" fill="#1d7a1d" opacity="0.03"/><rect x="481.4" y="538.9" width="8.4" height="8.4" fill="#1d7a1d" opacity="0.03"/><rect x="491.5" y="538.9" width="8.4" height="8.4" fill="#1d7a1d" opacity="0.03"/><rect x="501.6" y="538.9" width="8.4" height="8.4" fill="#1d7a1d" opacity="0.04"/><rect x="349.7" y="549.0" width="8.4" height="8.4" fill="#1d7a1d" opacity="0.00"/><rect x="359.9" y="549.0" width="8.4" height="8.4" fill="#1d7a1d" opacity="0.01"/><rect x="370.0" y="549.0" width="8.4" height="8.4" fill="#1d7a1d" opacity="0.01"/><rect x="380.1" y="549.0" width="8.4" height="8.4" fill="#1d7a1d" opacity="0.01"/><rect x="390.2" y="549.0" width="8.4" height="8.4" fill="#1d7a1d" opacity="0.02"/><rect x="400.4" y="549.0" width="8.4" height="8.4" fill="#1d7a1d" opacity="0.02"/><rect x="410.5" y="549.0" width="8.4" height="8.4" fill="#1d7a1d" opacity="0.03"/><rect x="420.6" y="549.0" width="8.4" height="8.4" fill="#1d7a1d" opacity="0.03"/><rect x="430.8" y="549.0" width="8.4" height="8.4" fill="#1d7a1d" opacity="0.03"/><rect x="440.9" y="549.0" width="8.4" height="8.4" fill="#1d7a1d" opacity="0.04"/><rect x="451.0" y="549.0" width="8.4" height="8.4" fill="#1d7a1d" opacity="0.04"/><rect x="461.1" y="549.0" width="8.4" height="8.4" fill="#1d7a1d" opacity="0.04"/><rect x="471.3" y="549.0" width="8.4" height="8.4" fill="#1d7a1d" opacity="0.05"/><rect x="481.4" y="549.0" width="8.4" height="8.4" fill="#1d7a1d" opacity="0.05"/><rect x="491.5" y="549.0" width="8.4" height="8.4" fill="#1d7a1d" opacity="0.05"/><rect x="501.6" y="549.0" width="8.4" height="8.4" fill="#1d7a1d" opacity="0.06"/><rect x="349.7" y="559.1" width="8.4" height="8.4" fill="#1d7a1d" opacity="0.00"/><rect x="359.9" y="559.1" width="8.4" height="8.4" fill="#1d7a1d" opacity="0.01"/><rect x="370.0" y="559.1" width="8.4" height="8.4" fill="#1d7a1d" opacity="0.01"/><rect x="380.1" y="559.1" width="8.4" height="8.4" fill="#1d7a1d" opacity="0.01"/><rect x="390.2" y="559.1" width="8.4" height="8.4" fill="#1d7a1d" opacity="0.02"/><rect x="400.4" y="559.1" width="8.4" height="8.4" fill="#1d7a1d" opacity="0.02"/><rect x="410.5" y="559.1" width="8.4" height="8.4" fill="#1d7a1d" opacity="0.03"/><rect x="420.6" y="559.1" width="8.4" height="8.4" fill="#1d7a1d" opacity="0.03"/><rect x="430.8" y="559.1" width="8.4" height="8.4" fill="#1d7a1d" opacity="0.03"/><rect x="440.9" y="559.1" width="8.4" height="8.4" fill="#1d7a1d" opacity="0.04"/><rect x="451.0" y="559.1" width="8.4" height="8.4" fill="#1d7a1d" opacity="0.04"/><rect x="461.1" y="559.1" width="8.4" height="8.4" fill="#1d7a1d" opacity="0.04"/><rect x="471.3" y="559.1" width="8.4" height="8.4" fill="#1d7a1d" opacity="0.05"/><rect x="481.4" y="559.1" width="8.4" height="8.4" fill="#1d7a1d" opacity="0.05"/><rect x="491.5" y="559.1" width="8.4" height="8.4" fill="#1d7a1d" opacity="0.05"/><rect x="501.6" y="559.1" width="8.4" height="8.4" fill="#1d7a1d" opacity="0.06"/></g><g filter="url(#b07)"><ellipse cx="353.9" cy="492.5" rx="2.7" ry="2.3" fill="#27a527" opacity="0.01"/><ellipse cx="364.1" cy="492.5" rx="2.7" ry="2.3" fill="#27a527" opacity="0.02"/><ellipse cx="374.2" cy="492.5" rx="2.7" ry="2.3" fill="#27a527" opacity="0.03"/><ellipse cx="384.3" cy="492.5" rx="2.7" ry="2.3" fill="#27a527" opacity="0.03"/><ellipse cx="394.4" cy="492.5" rx="2.7" ry="2.3" fill="#27a527" opacity="0.04"/><ellipse cx="404.6" cy="492.5" rx="2.7" ry="2.3" fill="#27a527" opacity="0.05"/><ellipse cx="414.7" cy="492.5" rx="2.7" ry="2.3" fill="#27a527" opacity="0.06"/><ellipse cx="424.8" cy="492.5" rx="2.7" ry="2.3" fill="#27a527" opacity="0.07"/><ellipse cx="435.0" cy="492.5" rx="2.7" ry="2.3" fill="#27a527" opacity="0.08"/><ellipse cx="445.1" cy="492.5" rx="2.7" ry="2.3" fill="#27a527" opacity="0.09"/><ellipse cx="455.2" cy="492.5" rx="2.7" ry="2.3" fill="#27a527" opacity="0.09"/><ellipse cx="465.3" cy="492.5" rx="2.7" ry="2.3" fill="#27a527" opacity="0.10"/><ellipse cx="475.5" cy="492.5" rx="2.7" ry="2.3" fill="#27a527" opacity="0.11"/><ellipse cx="485.6" cy="492.5" rx="2.7" ry="2.3" fill="#27a527" opacity="0.12"/><ellipse cx="495.7" cy="492.5" rx="2.7" ry="2.3" fill="#27a527" opacity="0.13"/><ellipse cx="505.8" cy="492.5" rx="2.7" ry="2.3" fill="#27a527" opacity="0.14"/><ellipse cx="333.7" cy="502.6" rx="3.3" ry="2.1" fill="#27a527" opacity="0.03" transform="rotate(-30 333.7 502.6)"/><ellipse cx="343.8" cy="502.6" rx="3.3" ry="2.1" fill="#27a527" opacity="0.05" transform="rotate(-30 343.8 502.6)"/><ellipse cx="353.9" cy="502.6" rx="3.3" ry="2.1" fill="#27a527" opacity="0.07" transform="rotate(-30 353.9 502.6)"/><ellipse cx="364.1" cy="502.6" rx="3.3" ry="2.1" fill="#27a527" opacity="0.09" transform="rotate(-30 364.1 502.6)"/><ellipse cx="374.2" cy="502.6" rx="3.3" ry="2.1" fill="#27a527" opacity="0.11" transform="rotate(-30 374.2 502.6)"/><ellipse cx="384.3" cy="502.6" rx="3.3" ry="2.1" fill="#27a527" opacity="0.13" transform="rotate(-30 384.3 502.6)"/><ellipse cx="394.4" cy="502.6" rx="3.3" ry="2.1" fill="#27a527" opacity="0.15" transform="rotate(-30 394.4 502.6)"/><ellipse cx="404.6" cy="502.6" rx="3.3" ry="2.1" fill="#27a527" opacity="0.17" transform="rotate(-30 404.6 502.6)"/><ellipse cx="414.7" cy="502.6" rx="3.3" ry="2.1" fill="#27a527" opacity="0.18" transform="rotate(-30 414.7 502.6)"/><ellipse cx="424.8" cy="502.6" rx="3.3" ry="2.1" fill="#27a527" opacity="0.20" transform="rotate(-30 424.8 502.6)"/><ellipse cx="435.0" cy="502.6" rx="3.3" ry="2.1" fill="#27a527" opacity="0.22" transform="rotate(-30 435.0 502.6)"/><ellipse cx="445.1" cy="502.6" rx="3.3" ry="2.1" fill="#27a527" opacity="0.24" transform="rotate(-30 445.1 502.6)"/><ellipse cx="455.2" cy="502.6" rx="3.3" ry="2.1" fill="#27a527" opacity="0.26" transform="rotate(-30 455.2 502.6)"/><ellipse cx="465.3" cy="502.6" rx="3.3" ry="2.1" fill="#27a527" opacity="0.28" transform="rotate(-30 465.3 502.6)"/><ellipse cx="475.5" cy="502.6" rx="3.3" ry="2.1" fill="#27a527" opacity="0.29" transform="rotate(-30 475.5 502.6)"/><ellipse cx="485.6" cy="502.6" rx="3.3" ry="2.1" fill="#27a527" opacity="0.31" transform="rotate(-30 485.6 502.6)"/><ellipse cx="495.7" cy="502.6" rx="3.3" ry="2.1" fill="#27a527" opacity="0.33" transform="rotate(-30 495.7 502.6)"/><ellipse cx="505.8" cy="502.6" rx="3.3" ry="2.1" fill="#27a527" opacity="0.34" transform="rotate(-30 505.8 502.6)"/><ellipse cx="333.7" cy="512.7" rx="2.7" ry="2.3" fill="#27a527" opacity="0.02"/><ellipse cx="343.8" cy="512.7" rx="2.7" ry="2.3" fill="#27a527" opacity="0.04"/><ellipse cx="353.9" cy="512.7" rx="2.7" ry="2.3" fill="#27a527" opacity="0.05"/><ellipse cx="364.1" cy="512.7" rx="2.7" ry="2.3" fill="#27a527" opacity="0.07"/><ellipse cx="374.2" cy="512.7" rx="2.7" ry="2.3" fill="#27a527" opacity="0.08"/><ellipse cx="384.3" cy="512.7" rx="2.7" ry="2.3" fill="#27a527" opacity="0.09"/><ellipse cx="394.4" cy="512.7" rx="2.7" ry="2.3" fill="#27a527" opacity="0.11"/><ellipse cx="404.6" cy="512.7" rx="2.7" ry="2.3" fill="#27a527" opacity="0.12"/><ellipse cx="414.7" cy="512.7" rx="2.7" ry="2.3" fill="#27a527" opacity="0.14"/><ellipse cx="424.8" cy="512.7" rx="2.7" ry="2.3" fill="#27a527" opacity="0.15"/><ellipse cx="435.0" cy="512.7" rx="2.7" ry="2.3" fill="#27a527" opacity="0.16"/><ellipse cx="445.1" cy="512.7" rx="2.7" ry="2.3" fill="#27a527" opacity="0.18"/><ellipse cx="455.2" cy="512.7" rx="2.7" ry="2.3" fill="#27a527" opacity="0.19"/><ellipse cx="465.3" cy="512.7" rx="2.7" ry="2.3" fill="#27a527" opacity="0.20"/><ellipse cx="475.5" cy="512.7" rx="2.7" ry="2.3" fill="#27a527" opacity="0.21"/><ellipse cx="485.6" cy="512.7" rx="2.7" ry="2.3" fill="#27a527" opacity="0.23"/><ellipse cx="495.7" cy="512.7" rx="2.7" ry="2.3" fill="#27a527" opacity="0.24"/><ellipse cx="505.8" cy="512.7" rx="2.7" ry="2.3" fill="#27a527" opacity="0.25"/><ellipse cx="323.6" cy="522.8" rx="2.8" ry="2.8" fill="#27a527" opacity="0.05" transform="rotate(-20 323.6 522.8)"/><ellipse cx="333.7" cy="522.8" rx="2.8" ry="2.8" fill="#27a527" opacity="0.09" transform="rotate(-20 333.7 522.8)"/><ellipse cx="343.8" cy="522.8" rx="2.8" ry="2.8" fill="#27a527" opacity="0.11" transform="rotate(-20 343.8 522.8)"/><ellipse cx="353.9" cy="522.8" rx="2.8" ry="2.8" fill="#27a527" opacity="0.14" transform="rotate(-20 353.9 522.8)"/><ellipse cx="364.1" cy="522.8" rx="2.8" ry="2.8" fill="#27a527" opacity="0.16" transform="rotate(-20 364.1 522.8)"/><ellipse cx="374.2" cy="522.8" rx="2.8" ry="2.8" fill="#27a527" opacity="0.18" transform="rotate(-20 374.2 522.8)"/><ellipse cx="384.3" cy="522.8" rx="2.8" ry="2.8" fill="#27a527" opacity="0.21" transform="rotate(-20 384.3 522.8)"/><ellipse cx="394.4" cy="522.8" rx="2.8" ry="2.8" fill="#27a527" opacity="0.23" transform="rotate(-20 394.4 522.8)"/><ellipse cx="404.6" cy="522.8" rx="2.8" ry="2.8" fill="#27a527" opacity="0.25" transform="rotate(-20 404.6 522.8)"/><ellipse cx="414.7" cy="522.8" rx="2.8" ry="2.8" fill="#27a527" opacity="0.26" transform="rotate(-20 414.7 522.8)"/><ellipse cx="424.8" cy="522.8" rx="2.8" ry="2.8" fill="#27a527" opacity="0.28" transform="rotate(-20 424.8 522.8)"/><ellipse cx="435.0" cy="522.8" rx="2.8" ry="2.8" fill="#27a527" opacity="0.30" transform="rotate(-20 435.0 522.8)"/><ellipse cx="445.1" cy="522.8" rx="2.8" ry="2.8" fill="#27a527" opacity="0.32" transform="rotate(-20 445.1 522.8)"/><ellipse cx="455.2" cy="522.8" rx="2.8" ry="2.8" fill="#27a527" opacity="0.33" transform="rotate(-20 455.2 522.8)"/><ellipse cx="465.3" cy="522.8" rx="2.8" ry="2.8" fill="#27a527" opacity="0.35" transform="rotate(-20 465.3 522.8)"/><ellipse cx="475.5" cy="522.8" rx="2.8" ry="2.8" fill="#27a527" opacity="0.37" transform="rotate(-20 475.5 522.8)"/><ellipse cx="485.6" cy="522.8" rx="2.8" ry="2.8" fill="#27a527" opacity="0.38" transform="rotate(-20 485.6 522.8)"/><ellipse cx="495.7" cy="522.8" rx="2.8" ry="2.8" fill="#27a527" opacity="0.40" transform="rotate(-20 495.7 522.8)"/><ellipse cx="505.8" cy="522.8" rx="2.8" ry="2.8" fill="#27a527" opacity="0.41" transform="rotate(-20 505.8 522.8)"/><ellipse cx="323.6" cy="533.0" rx="2.3" ry="2.3" fill="#27a527" opacity="0.02"/><ellipse cx="333.7" cy="533.0" rx="2.3" ry="2.3" fill="#27a527" opacity="0.03"/><ellipse cx="343.8" cy="533.0" rx="2.3" ry="2.3" fill="#27a527" opacity="0.04"/><ellipse cx="353.9" cy="533.0" rx="2.3" ry="2.3" fill="#27a527" opacity="0.05"/><ellipse cx="364.1" cy="533.0" rx="2.3" ry="2.3" fill="#27a527" opacity="0.06"/><ellipse cx="374.2" cy="533.0" rx="2.3" ry="2.3" fill="#27a527" opacity="0.06"/><ellipse cx="384.3" cy="533.0" rx="2.3" ry="2.3" fill="#27a527" opacity="0.07"/><ellipse cx="394.4" cy="533.0" rx="2.3" ry="2.3" fill="#27a527" opacity="0.08"/><ellipse cx="404.6" cy="533.0" rx="2.3" ry="2.3" fill="#27a527" opacity="0.09"/><ellipse cx="414.7" cy="533.0" rx="2.3" ry="2.3" fill="#27a527" opacity="0.10"/><ellipse cx="424.8" cy="533.0" rx="2.3" ry="2.3" fill="#27a527" opacity="0.10"/><ellipse cx="435.0" cy="533.0" rx="2.3" ry="2.3" fill="#27a527" opacity="0.11"/><ellipse cx="445.1" cy="533.0" rx="2.3" ry="2.3" fill="#27a527" opacity="0.12"/><ellipse cx="455.2" cy="533.0" rx="2.3" ry="2.3" fill="#27a527" opacity="0.13"/><ellipse cx="465.3" cy="533.0" rx="2.3" ry="2.3" fill="#27a527" opacity="0.13"/><ellipse cx="475.5" cy="533.0" rx="2.3" ry="2.3" fill="#27a527" opacity="0.14"/><ellipse cx="485.6" cy="533.0" rx="2.3" ry="2.3" fill="#27a527" opacity="0.15"/><ellipse cx="495.7" cy="533.0" rx="2.3" ry="2.3" fill="#27a527" opacity="0.15"/><ellipse cx="505.8" cy="533.0" rx="2.3" ry="2.3" fill="#27a527" opacity="0.16"/><ellipse cx="374.2" cy="543.1" rx="2.5" ry="2.3" fill="#27a527" opacity="0.01"/><ellipse cx="384.3" cy="543.1" rx="2.5" ry="2.3" fill="#27a527" opacity="0.01"/><ellipse cx="394.4" cy="543.1" rx="2.5" ry="2.3" fill="#27a527" opacity="0.02"/><ellipse cx="404.6" cy="543.1" rx="2.5" ry="2.3" fill="#27a527" opacity="0.03"/><ellipse cx="414.7" cy="543.1" rx="2.5" ry="2.3" fill="#27a527" opacity="0.03"/><ellipse cx="424.8" cy="543.1" rx="2.5" ry="2.3" fill="#27a527" opacity="0.04"/><ellipse cx="435.0" cy="543.1" rx="2.5" ry="2.3" fill="#27a527" opacity="0.05"/><ellipse cx="445.1" cy="543.1" rx="2.5" ry="2.3" fill="#27a527" opacity="0.05"/><ellipse cx="455.2" cy="543.1" rx="2.5" ry="2.3" fill="#27a527" opacity="0.06"/><ellipse cx="465.3" cy="543.1" rx="2.5" ry="2.3" fill="#27a527" opacity="0.07"/><ellipse cx="475.5" cy="543.1" rx="2.5" ry="2.3" fill="#27a527" opacity="0.07"/><ellipse cx="485.6" cy="543.1" rx="2.5" ry="2.3" fill="#27a527" opacity="0.08"/><ellipse cx="495.7" cy="543.1" rx="2.5" ry="2.3" fill="#27a527" opacity="0.09"/><ellipse cx="505.8" cy="543.1" rx="2.5" ry="2.3" fill="#27a527" opacity="0.09"/><ellipse cx="353.9" cy="553.2" rx="2.3" ry="2.3" fill="#27a527" opacity="0.01"/><ellipse cx="364.1" cy="553.2" rx="2.3" ry="2.3" fill="#27a527" opacity="0.02"/><ellipse cx="374.2" cy="553.2" rx="2.3" ry="2.3" fill="#27a527" opacity="0.03"/><ellipse cx="384.3" cy="553.2" rx="2.3" ry="2.3" fill="#27a527" opacity="0.04"/><ellipse cx="394.4" cy="553.2" rx="2.3" ry="2.3" fill="#27a527" opacity="0.05"/><ellipse cx="404.6" cy="553.2" rx="2.3" ry="2.3" fill="#27a527" opacity="0.06"/><ellipse cx="414.7" cy="553.2" rx="2.3" ry="2.3" fill="#27a527" opacity="0.07"/><ellipse cx="424.8" cy="553.2" rx="2.3" ry="2.3" fill="#27a527" opacity="0.07"/><ellipse cx="435.0" cy="553.2" rx="2.3" ry="2.3" fill="#27a527" opacity="0.08"/><ellipse cx="445.1" cy="553.2" rx="2.3" ry="2.3" fill="#27a527" opacity="0.09"/><ellipse cx="455.2" cy="553.2" rx="2.3" ry="2.3" fill="#27a527" opacity="0.10"/><ellipse cx="465.3" cy="553.2" rx="2.3" ry="2.3" fill="#27a527" opacity="0.11"/><ellipse cx="475.5" cy="553.2" rx="2.3" ry="2.3" fill="#27a527" opacity="0.12"/><ellipse cx="485.6" cy="553.2" rx="2.3" ry="2.3" fill="#27a527" opacity="0.13"/><ellipse cx="495.7" cy="553.2" rx="2.3" ry="2.3" fill="#27a527" opacity="0.14"/><ellipse cx="505.8" cy="553.2" rx="2.3" ry="2.3" fill="#27a527" opacity="0.15"/><ellipse cx="353.9" cy="563.3" rx="2.3" ry="2.3" fill="#27a527" opacity="0.01"/><ellipse cx="364.1" cy="563.3" rx="2.3" ry="2.3" fill="#27a527" opacity="0.02"/><ellipse cx="374.2" cy="563.3" rx="2.3" ry="2.3" fill="#27a527" opacity="0.03"/><ellipse cx="384.3" cy="563.3" rx="2.3" ry="2.3" fill="#27a527" opacity="0.04"/><ellipse cx="394.4" cy="563.3" rx="2.3" ry="2.3" fill="#27a527" opacity="0.05"/><ellipse cx="404.6" cy="563.3" rx="2.3" ry="2.3" fill="#27a527" opacity="0.06"/><ellipse cx="414.7" cy="563.3" rx="2.3" ry="2.3" fill="#27a527" opacity="0.07"/><ellipse cx="424.8" cy="563.3" rx="2.3" ry="2.3" fill="#27a527" opacity="0.07"/><ellipse cx="435.0" cy="563.3" rx="2.3" ry="2.3" fill="#27a527" opacity="0.08"/><ellipse cx="445.1" cy="563.3" rx="2.3" ry="2.3" fill="#27a527" opacity="0.09"/><ellipse cx="455.2" cy="563.3" rx="2.3" ry="2.3" fill="#27a527" opacity="0.10"/><ellipse cx="465.3" cy="563.3" rx="2.3" ry="2.3" fill="#27a527" opacity="0.11"/><ellipse cx="475.5" cy="563.3" rx="2.3" ry="2.3" fill="#27a527" opacity="0.12"/><ellipse cx="485.6" cy="563.3" rx="2.3" ry="2.3" fill="#27a527" opacity="0.13"/><ellipse cx="495.7" cy="563.3" rx="2.3" ry="2.3" fill="#27a527" opacity="0.14"/><ellipse cx="505.8" cy="563.3" rx="2.3" ry="2.3" fill="#27a527" opacity="0.15"/></g><g filter="url(#b05)"><ellipse cx="334.2" cy="502.3" rx="1.6" ry="0.9" fill="#78ff68" opacity="0.02"/><ellipse cx="344.3" cy="502.3" rx="1.6" ry="0.9" fill="#78ff68" opacity="0.04"/><ellipse cx="354.4" cy="502.3" rx="1.6" ry="0.9" fill="#78ff68" opacity="0.06"/><ellipse cx="364.6" cy="502.3" rx="1.6" ry="0.9" fill="#78ff68" opacity="0.08"/><ellipse cx="374.7" cy="502.3" rx="1.6" ry="0.9" fill="#78ff68" opacity="0.09"/><ellipse cx="384.8" cy="502.3" rx="1.6" ry="0.9" fill="#78ff68" opacity="0.11"/><ellipse cx="394.9" cy="502.3" rx="1.6" ry="0.9" fill="#78ff68" opacity="0.13"/><ellipse cx="405.1" cy="502.3" rx="1.6" ry="0.9" fill="#78ff68" opacity="0.14"/><ellipse cx="415.2" cy="502.3" rx="1.6" ry="0.9" fill="#78ff68" opacity="0.16"/><ellipse cx="425.3" cy="502.3" rx="1.6" ry="0.9" fill="#78ff68" opacity="0.18"/><ellipse cx="435.5" cy="502.3" rx="1.6" ry="0.9" fill="#78ff68" opacity="0.19"/><ellipse cx="445.6" cy="502.3" rx="1.6" ry="0.9" fill="#78ff68" opacity="0.21"/><ellipse cx="455.7" cy="502.3" rx="1.6" ry="0.9" fill="#78ff68" opacity="0.22"/><ellipse cx="465.8" cy="502.3" rx="1.6" ry="0.9" fill="#78ff68" opacity="0.24"/><ellipse cx="476.0" cy="502.3" rx="1.6" ry="0.9" fill="#78ff68" opacity="0.25"/><ellipse cx="486.1" cy="502.3" rx="1.6" ry="0.9" fill="#78ff68" opacity="0.27"/><ellipse cx="496.2" cy="502.3" rx="1.6" ry="0.9" fill="#78ff68" opacity="0.28"/><ellipse cx="506.3" cy="502.3" rx="1.6" ry="0.9" fill="#78ff68" opacity="0.30"/><ellipse cx="333.7" cy="512.7" rx="1.0" ry="1.0" fill="#78ff68" opacity="0.02"/><ellipse cx="343.8" cy="512.7" rx="1.0" ry="1.0" fill="#78ff68" opacity="0.03"/><ellipse cx="353.9" cy="512.7" rx="1.0" ry="1.0" fill="#78ff68" opacity="0.05"/><ellipse cx="364.1" cy="512.7" rx="1.0" ry="1.0" fill="#78ff68" opacity="0.06"/><ellipse cx="374.2" cy="512.7" rx="1.0" ry="1.0" fill="#78ff68" opacity="0.08"/><ellipse cx="384.3" cy="512.7" rx="1.0" ry="1.0" fill="#78ff68" opacity="0.09"/><ellipse cx="394.4" cy="512.7" rx="1.0" ry="1.0" fill="#78ff68" opacity="0.11"/><ellipse cx="404.6" cy="512.7" rx="1.0" ry="1.0" fill="#78ff68" opacity="0.12"/><ellipse cx="414.7" cy="512.7" rx="1.0" ry="1.0" fill="#78ff68" opacity="0.13"/><ellipse cx="424.8" cy="512.7" rx="1.0" ry="1.0" fill="#78ff68" opacity="0.15"/><ellipse cx="435.0" cy="512.7" rx="1.0" ry="1.0" fill="#78ff68" opacity="0.16"/><ellipse cx="445.1" cy="512.7" rx="1.0" ry="1.0" fill="#78ff68" opacity="0.17"/><ellipse cx="455.2" cy="512.7" rx="1.0" ry="1.0" fill="#78ff68" opacity="0.19"/><ellipse cx="465.3" cy="512.7" rx="1.0" ry="1.0" fill="#78ff68" opacity="0.20"/><ellipse cx="475.5" cy="512.7" rx="1.0" ry="1.0" fill="#78ff68" opacity="0.21"/><ellipse cx="485.6" cy="512.7" rx="1.0" ry="1.0" fill="#78ff68" opacity="0.22"/><ellipse cx="495.7" cy="512.7" rx="1.0" ry="1.0" fill="#78ff68" opacity="0.24"/><ellipse cx="505.8" cy="512.7" rx="1.0" ry="1.0" fill="#78ff68" opacity="0.25"/><ellipse cx="323.6" cy="522.8" rx="1.3" ry="1.5" fill="#78ff68" opacity="0.06"/><ellipse cx="333.7" cy="522.8" rx="1.3" ry="1.5" fill="#78ff68" opacity="0.10"/><ellipse cx="343.8" cy="522.8" rx="1.3" ry="1.5" fill="#78ff68" opacity="0.14"/><ellipse cx="353.9" cy="522.8" rx="1.3" ry="1.5" fill="#78ff68" opacity="0.17"/><ellipse cx="364.1" cy="522.8" rx="1.3" ry="1.5" fill="#78ff68" opacity="0.20"/><ellipse cx="374.2" cy="522.8" rx="1.3" ry="1.5" fill="#78ff68" opacity="0.22"/><ellipse cx="384.3" cy="522.8" rx="1.3" ry="1.5" fill="#78ff68" opacity="0.25"/><ellipse cx="394.4" cy="522.8" rx="1.3" ry="1.5" fill="#78ff68" opacity="0.27"/><ellipse cx="404.6" cy="522.8" rx="1.3" ry="1.5" fill="#78ff68" opacity="0.30"/><ellipse cx="414.7" cy="522.8" rx="1.3" ry="1.5" fill="#78ff68" opacity="0.32"/><ellipse cx="424.8" cy="522.8" rx="1.3" ry="1.5" fill="#78ff68" opacity="0.34"/><ellipse cx="435.0" cy="522.8" rx="1.3" ry="1.5" fill="#78ff68" opacity="0.36"/><ellipse cx="445.1" cy="522.8" rx="1.3" ry="1.5" fill="#78ff68" opacity="0.38"/><ellipse cx="455.2" cy="522.8" rx="1.3" ry="1.5" fill="#78ff68" opacity="0.40"/><ellipse cx="465.3" cy="522.8" rx="1.3" ry="1.5" fill="#78ff68" opacity="0.42"/><ellipse cx="475.5" cy="522.8" rx="1.3" ry="1.5" fill="#78ff68" opacity="0.44"/><ellipse cx="485.6" cy="522.8" rx="1.3" ry="1.5" fill="#78ff68" opacity="0.46"/><ellipse cx="495.7" cy="522.8" rx="1.3" ry="1.5" fill="#78ff68" opacity="0.48"/><ellipse cx="505.8" cy="522.8" rx="1.3" ry="1.5" fill="#78ff68" opacity="0.50"/><ellipse cx="323.9" cy="533.0" rx="1.0" ry="1.0" fill="#78ff68" opacity="0.08"/><ellipse cx="334.0" cy="533.0" rx="1.0" ry="1.0" fill="#78ff68" opacity="0.13"/><ellipse cx="344.1" cy="533.0" rx="1.0" ry="1.0" fill="#78ff68" opacity="0.18"/><ellipse cx="354.2" cy="533.0" rx="1.0" ry="1.0" fill="#78ff68" opacity="0.23"/><ellipse cx="364.4" cy="533.0" rx="1.0" ry="1.0" fill="#78ff68" opacity="0.27"/><ellipse cx="374.5" cy="533.0" rx="1.0" ry="1.0" fill="#78ff68" opacity="0.32"/><ellipse cx="384.6" cy="533.0" rx="1.0" ry="1.0" fill="#78ff68" opacity="0.36"/><ellipse cx="394.8" cy="533.0" rx="1.0" ry="1.0" fill="#78ff68" opacity="0.40"/><ellipse cx="404.9" cy="533.0" rx="1.0" ry="1.0" fill="#78ff68" opacity="0.44"/><ellipse cx="415.0" cy="533.0" rx="1.0" ry="1.0" fill="#78ff68" opacity="0.48"/><ellipse cx="425.1" cy="533.0" rx="1.0" ry="1.0" fill="#78ff68" opacity="0.52"/><ellipse cx="435.3" cy="533.0" rx="1.0" ry="1.0" fill="#78ff68" opacity="0.55"/><ellipse cx="445.4" cy="533.0" rx="1.0" ry="1.0" fill="#78ff68" opacity="0.59"/><ellipse cx="455.5" cy="533.0" rx="1.0" ry="1.0" fill="#78ff68" opacity="0.63"/><ellipse cx="465.6" cy="533.0" rx="1.0" ry="1.0" fill="#78ff68" opacity="0.66"/><ellipse cx="475.8" cy="533.0" rx="1.0" ry="1.0" fill="#78ff68" opacity="0.70"/><ellipse cx="485.9" cy="533.0" rx="1.0" ry="1.0" fill="#78ff68" opacity="0.73"/><ellipse cx="496.0" cy="533.0" rx="1.0" ry="1.0" fill="#78ff68" opacity="0.77"/><ellipse cx="506.1" cy="533.0" rx="1.0" ry="1.0" fill="#78ff68" opacity="0.80"/><ellipse cx="353.9" cy="553.2" rx="0.9" ry="0.9" fill="#78ff68" opacity="0.01"/><ellipse cx="364.1" cy="553.2" rx="0.9" ry="0.9" fill="#78ff68" opacity="0.01"/><ellipse cx="374.2" cy="553.2" rx="0.9" ry="0.9" fill="#78ff68" opacity="0.02"/><ellipse cx="384.3" cy="553.2" rx="0.9" ry="0.9" fill="#78ff68" opacity="0.03"/><ellipse cx="394.4" cy="553.2" rx="0.9" ry="0.9" fill="#78ff68" opacity="0.03"/><ellipse cx="404.6" cy="553.2" rx="0.9" ry="0.9" fill="#78ff68" opacity="0.04"/><ellipse cx="414.7" cy="553.2" rx="0.9" ry="0.9" fill="#78ff68" opacity="0.04"/><ellipse cx="424.8" cy="553.2" rx="0.9" ry="0.9" fill="#78ff68" opacity="0.05"/><ellipse cx="435.0" cy="553.2" rx="0.9" ry="0.9" fill="#78ff68" opacity="0.06"/><ellipse cx="445.1" cy="553.2" rx="0.9" ry="0.9" fill="#78ff68" opacity="0.06"/><ellipse cx="455.2" cy="553.2" rx="0.9" ry="0.9" fill="#78ff68" opacity="0.07"/><ellipse cx="465.3" cy="553.2" rx="0.9" ry="0.9" fill="#78ff68" opacity="0.08"/><ellipse cx="475.5" cy="553.2" rx="0.9" ry="0.9" fill="#78ff68" opacity="0.08"/><ellipse cx="485.6" cy="553.2" rx="0.9" ry="0.9" fill="#78ff68" opacity="0.09"/><ellipse cx="495.7" cy="553.2" rx="0.9" ry="0.9" fill="#78ff68" opacity="0.09"/><ellipse cx="505.8" cy="553.2" rx="0.9" ry="0.9" fill="#78ff68" opacity="0.10"/><ellipse cx="353.9" cy="563.3" rx="0.9" ry="0.9" fill="#78ff68" opacity="0.01"/><ellipse cx="364.1" cy="563.3" rx="0.9" ry="0.9" fill="#78ff68" opacity="0.01"/><ellipse cx="374.2" cy="563.3" rx="0.9" ry="0.9" fill="#78ff68" opacity="0.02"/><ellipse cx="384.3" cy="563.3" rx="0.9" ry="0.9" fill="#78ff68" opacity="0.03"/><ellipse cx="394.4" cy="563.3" rx="0.9" ry="0.9" fill="#78ff68" opacity="0.03"/><ellipse cx="404.6" cy="563.3" rx="0.9" ry="0.9" fill="#78ff68" opacity="0.04"/><ellipse cx="414.7" cy="563.3" rx="0.9" ry="0.9" fill="#78ff68" opacity="0.04"/><ellipse cx="424.8" cy="563.3" rx="0.9" ry="0.9" fill="#78ff68" opacity="0.05"/><ellipse cx="435.0" cy="563.3" rx="0.9" ry="0.9" fill="#78ff68" opacity="0.06"/><ellipse cx="445.1" cy="563.3" rx="0.9" ry="0.9" fill="#78ff68" opacity="0.06"/><ellipse cx="455.2" cy="563.3" rx="0.9" ry="0.9" fill="#78ff68" opacity="0.07"/><ellipse cx="465.3" cy="563.3" rx="0.9" ry="0.9" fill="#78ff68" opacity="0.08"/><ellipse cx="475.5" cy="563.3" rx="0.9" ry="0.9" fill="#78ff68" opacity="0.08"/><ellipse cx="485.6" cy="563.3" rx="0.9" ry="0.9" fill="#78ff68" opacity="0.09"/><ellipse cx="495.7" cy="563.3" rx="0.9" ry="0.9" fill="#78ff68" opacity="0.09"/><ellipse cx="505.8" cy="563.3" rx="0.9" ry="0.9" fill="#78ff68" opacity="0.10"/></g>
<path d="M288.13 487.4V568.4M298.25 487.4V568.4M308.38 487.4V568.4M318.50 487.4V568.4M328.63 487.4V568.4M338.76 487.4V568.4M348.88 487.4V568.4M359.01 487.4V568.4M369.13 487.4V568.4M379.26 487.4V568.4M389.39 487.4V568.4M399.51 487.4V568.4M409.64 487.4V568.4M419.77 487.4V568.4M429.89 487.4V568.4M440.02 487.4V568.4M450.14 487.4V568.4M460.27 487.4V568.4M470.40 487.4V568.4M480.52 487.4V568.4M490.65 487.4V568.4M500.77 487.4V568.4" stroke="#a088a6" stroke-width="0.75" opacity="0.48" fill="none"/><path d="M278.0 497.52H510.9" stroke="#d8c8da" stroke-width="0.9" opacity="0.7"/><path d="M278.0 507.65H510.9" stroke="#a987b0" stroke-width="0.9" opacity="0.5"/><path d="M278.0 517.77H510.9" stroke="#d8c8da" stroke-width="0.9" opacity="0.72"/><path d="M278.0 527.90H510.9" stroke="#a987b0" stroke-width="0.9" opacity="0.5"/><path d="M278.0 538.02H510.9" stroke="#d8c8da" stroke-width="0.9" opacity="0.72"/><path d="M278.0 548.15H510.9" stroke="#a987b0" stroke-width="0.9" opacity="0.5"/><path d="M278.0 558.27H510.9" stroke="#d8c8da" stroke-width="0.9" opacity="0.7"/>
<circle cx="46.9" cy="337.1" r="0.6" fill="#888" opacity="0.5"/><circle cx="57.0" cy="337.1" r="0.6" fill="#888" opacity="0.5"/><circle cx="67.1" cy="337.1" r="0.6" fill="#888" opacity="0.5"/><circle cx="77.2" cy="337.1" r="0.6" fill="#888" opacity="0.5"/><circle cx="87.4" cy="337.1" r="0.6" fill="#888" opacity="0.5"/><circle cx="97.5" cy="337.1" r="0.6" fill="#888" opacity="0.5"/><circle cx="107.6" cy="337.1" r="0.6" fill="#888" opacity="0.5"/><circle cx="117.7" cy="337.1" r="0.6" fill="#888" opacity="0.5"/><circle cx="127.9" cy="337.1" r="0.6" fill="#888" opacity="0.5"/><circle cx="138.0" cy="337.1" r="0.6" fill="#888" opacity="0.5"/><circle cx="148.1" cy="337.1" r="0.6" fill="#888" opacity="0.5"/><circle cx="158.2" cy="337.1" r="0.6" fill="#888" opacity="0.5"/><circle cx="168.4" cy="337.1" r="0.6" fill="#888" opacity="0.5"/><circle cx="178.5" cy="337.1" r="0.6" fill="#888" opacity="0.5"/><circle cx="188.6" cy="337.1" r="0.6" fill="#888" opacity="0.5"/><circle cx="198.8" cy="337.1" r="0.6" fill="#888" opacity="0.5"/><circle cx="208.9" cy="337.1" r="0.6" fill="#888" opacity="0.5"/><circle cx="219.0" cy="337.1" r="0.6" fill="#888" opacity="0.5"/><circle cx="229.1" cy="337.1" r="0.6" fill="#888" opacity="0.5"/><circle cx="239.3" cy="337.1" r="0.6" fill="#888" opacity="0.5"/><circle cx="249.4" cy="337.1" r="0.6" fill="#888" opacity="0.5"/><circle cx="259.5" cy="337.1" r="0.6" fill="#888" opacity="0.5"/><circle cx="269.6" cy="337.1" r="0.6" fill="#888" opacity="0.5"/>
<path d="M72.3 298.5V570.8" stroke="#555" stroke-width="1"/>
<path d="M309.6 297.5V571" stroke="#a8182e" stroke-width="0.95"/>
<g font-size="7.9" fill="#1a1a1a" text-anchor="middle">
<text x="157.5" y="296.5" font-size="8.3">PBS</text>
<text x="395.3" y="296.5" font-size="8.3">H<tspan font-size="5.3" dy="2.2">2</tspan><tspan dy="-2.2">O</tspan><tspan font-size="5.3" dy="2.2">2</tspan></text>
<text x="278" y="579" font-size="8.2">Time</text>
<text transform="translate(14.9 443.5) rotate(-90) scale(0.91 1)" font-size="8.5">Preincubation</text>
<text transform="translate(39.1 355.2) rotate(-90)" font-size="8.2" fill="#3f6fa8">PBS</text>
<text transform="translate(38.3 443.3) rotate(-90)" fill="#f2a75c">Glutamine</text>
<text transform="translate(38.7 534) rotate(-90)" font-size="8.2" fill="#4eaede">QCG</text>
</g>
<g font-size="14" font-weight="bold" fill="#000" stroke="#000" stroke-width="0.45">
<text x="20" y="301">B</text><text x="19.8" y="393">C</text><text x="19.4" y="486.8">D</text><text x="93.5" y="600.8">E</text>
</g>
</g>
<g id="panelE">
<clipPath id="cl"><rect x="115.1" y="599.6" width="156.4" height="123.4"/></clipPath>
<clipPath id="cr"><rect x="281.2" y="599.6" width="157" height="123.4"/></clipPath>
<rect x="115.1" y="599.6" width="156.4" height="123.4" fill="#090c0a"/>
<rect x="281.2" y="599.6" width="157" height="123.4" fill="#090c0a"/>
<g clip-path="url(#cl)"><ellipse cx="165.0" cy="635.0" rx="17.0" ry="16.0" fill="#1f7a1f" opacity="0.64" filter="url(#b3)"/><ellipse cx="163.4" cy="642.7" rx="6.5" ry="5.0" fill="#46c046" opacity="0.59" filter="url(#b2)"/><ellipse cx="202.3" cy="639.6" rx="12.5" ry="12.0" fill="#185818" opacity="0.55" filter="url(#b3)"/><ellipse cx="228.8" cy="649.0" rx="14.0" ry="13.5" fill="#1f761f" opacity="0.59" filter="url(#b3)"/><ellipse cx="228.8" cy="652.0" rx="6.0" ry="5.5" fill="#3eb03e" opacity="0.55" filter="url(#b2)"/><ellipse cx="250.6" cy="642.7" rx="9.0" ry="9.0" fill="#1f6f1f" opacity="0.59" filter="url(#b3)"/><ellipse cx="250.6" cy="643.0" rx="4.5" ry="5.0" fill="#38a038" opacity="0.47" filter="url(#b2)"/><ellipse cx="268.5" cy="631.8" rx="11.0" ry="12.0" fill="#257f25" opacity="0.64" filter="url(#b3)"/><ellipse cx="183.7" cy="700.4" rx="15.0" ry="14.5" fill="#268a26" opacity="0.72" filter="url(#b2)"/><ellipse cx="183.7" cy="700.4" rx="10.0" ry="10.0" fill="#2f9a2f" opacity="0.42" filter="url(#b2)"/><ellipse cx="212.0" cy="646.0" rx="8.0" ry="7.0" fill="#185818" opacity="0.42" filter="url(#b3)"/><ellipse cx="146.0" cy="636.0" rx="7.0" ry="6.0" fill="#1f6f1f" opacity="0.42" filter="url(#b3)"/><g filter="url(#b08)"><circle cx="142.2" cy="636.5" r="3.6" fill="#35d535" opacity="0.25"/><circle cx="142.2" cy="636.5" r="2.4" fill="#86fa7c" opacity="0.90"/><circle cx="152.5" cy="635.0" r="3.3" fill="#35d535" opacity="0.22"/><circle cx="152.5" cy="635.0" r="2.2" fill="#86fa7c" opacity="0.80"/><circle cx="165.6" cy="623.4" r="2.0" fill="#35d535" opacity="0.27"/><circle cx="165.6" cy="623.4" r="1.3" fill="#86fa7c" opacity="0.95"/><circle cx="177.4" cy="627.2" r="1.8" fill="#35d535" opacity="0.25"/><circle cx="177.4" cy="627.2" r="1.2" fill="#86fa7c" opacity="0.90"/><circle cx="171.2" cy="643.4" r="1.8" fill="#35d535" opacity="0.22"/><circle cx="171.2" cy="643.4" r="1.2" fill="#86fa7c" opacity="0.80"/><circle cx="176.8" cy="646.0" r="4.2" fill="#35d535" opacity="0.28"/><circle cx="176.8" cy="646.0" r="2.8" fill="#86fa7c" opacity="1.00"/><circle cx="177.3" cy="648.0" r="3.3" fill="#35d535" opacity="0.25"/><circle cx="177.3" cy="648.0" r="2.2" fill="#86fa7c" opacity="0.90"/><circle cx="195.5" cy="635.0" r="1.8" fill="#35d535" opacity="0.24"/><circle cx="195.5" cy="635.0" r="1.2" fill="#86fa7c" opacity="0.85"/><circle cx="200.2" cy="657.7" r="2.7" fill="#35d535" opacity="0.25"/><circle cx="200.2" cy="657.7" r="1.8" fill="#86fa7c" opacity="0.90"/><circle cx="209.2" cy="659.0" r="2.7" fill="#35d535" opacity="0.25"/><circle cx="209.2" cy="659.0" r="1.8" fill="#86fa7c" opacity="0.90"/><circle cx="211.7" cy="652.0" r="1.8" fill="#35d535" opacity="0.14"/><circle cx="211.7" cy="652.0" r="1.2" fill="#86fa7c" opacity="0.50"/><circle cx="228.8" cy="642.7" r="1.8" fill="#35d535" opacity="0.20"/><circle cx="228.8" cy="642.7" r="1.2" fill="#86fa7c" opacity="0.70"/><circle cx="238.2" cy="648.3" r="2.2" fill="#35d535" opacity="0.25"/><circle cx="238.2" cy="648.3" r="1.5" fill="#86fa7c" opacity="0.90"/><circle cx="266.8" cy="623.4" r="3.0" fill="#35d535" opacity="0.25"/><circle cx="266.8" cy="623.4" r="2.0" fill="#86fa7c" opacity="0.90"/><circle cx="267.8" cy="643.4" r="1.8" fill="#35d535" opacity="0.24"/><circle cx="267.8" cy="643.4" r="1.2" fill="#86fa7c" opacity="0.85"/><circle cx="261.5" cy="656.7" r="1.5" fill="#35d535" opacity="0.17"/><circle cx="261.5" cy="656.7" r="1.0" fill="#86fa7c" opacity="0.60"/><circle cx="185.2" cy="688.5" r="2.0" fill="#35d535" opacity="0.27"/><circle cx="185.2" cy="688.5" r="1.3" fill="#86fa7c" opacity="0.95"/><circle cx="171.2" cy="697.2" r="2.0" fill="#35d535" opacity="0.25"/><circle cx="171.2" cy="697.2" r="1.3" fill="#86fa7c" opacity="0.90"/><circle cx="171.2" cy="705.0" r="2.2" fill="#35d535" opacity="0.25"/><circle cx="171.2" cy="705.0" r="1.5" fill="#86fa7c" opacity="0.90"/><circle cx="196.1" cy="702.0" r="2.2" fill="#35d535" opacity="0.27"/><circle cx="196.1" cy="702.0" r="1.5" fill="#86fa7c" opacity="0.95"/><circle cx="193.6" cy="709.7" r="2.2" fill="#35d535" opacity="0.25"/><circle cx="193.6" cy="709.7" r="1.5" fill="#86fa7c" opacity="0.90"/><circle cx="179.0" cy="714.0" r="1.8" fill="#35d535" opacity="0.11"/><circle cx="179.0" cy="714.0" r="1.2" fill="#86fa7c" opacity="0.40"/><circle cx="200.8" cy="722.2" r="3.9" fill="#35d535" opacity="0.25"/><circle cx="200.8" cy="722.2" r="2.6" fill="#86fa7c" opacity="0.90"/></g></g>
<g clip-path="url(#cr)"><ellipse cx="318.5" cy="642.7" rx="17.0" ry="26.0" fill="#144a14" opacity="0.51" filter="url(#b3)"/><ellipse cx="368.3" cy="680.0" rx="15.6" ry="11.0" fill="#268a26" opacity="0.72" filter="url(#b3)"/><ellipse cx="365.2" cy="675.0" rx="8.0" ry="6.0" fill="#48c848" opacity="0.59" filter="url(#b2)"/><ellipse cx="415.0" cy="677.0" rx="12.5" ry="15.6" fill="#155015" opacity="0.51" filter="url(#b3)"/><ellipse cx="365.0" cy="703.0" rx="14.0" ry="10.0" fill="#124412" opacity="0.47" filter="url(#b3)"/><ellipse cx="385.0" cy="684.0" rx="8.0" ry="7.0" fill="#1f6f1f" opacity="0.42" filter="url(#b3)"/><g filter="url(#b08)"><circle cx="309.2" cy="625.6" r="1.8" fill="#35d535" opacity="0.20"/><circle cx="309.2" cy="625.6" r="1.2" fill="#86fa7c" opacity="0.70"/><circle cx="325.4" cy="619.4" r="1.8" fill="#35d535" opacity="0.20"/><circle cx="325.4" cy="619.4" r="1.2" fill="#86fa7c" opacity="0.70"/><circle cx="326.3" cy="641.7" r="2.4" fill="#35d535" opacity="0.24"/><circle cx="326.3" cy="641.7" r="1.6" fill="#86fa7c" opacity="0.85"/><circle cx="326.0" cy="644.5" r="2.1" fill="#35d535" opacity="0.20"/><circle cx="326.0" cy="644.5" r="1.4" fill="#86fa7c" opacity="0.70"/><circle cx="304.5" cy="651.5" r="2.2" fill="#35d535" opacity="0.24"/><circle cx="304.5" cy="651.5" r="1.5" fill="#86fa7c" opacity="0.85"/><circle cx="317.9" cy="669.8" r="3.0" fill="#35d535" opacity="0.27"/><circle cx="317.9" cy="669.8" r="2.0" fill="#86fa7c" opacity="0.95"/><circle cx="365.2" cy="672.3" r="3.0" fill="#35d535" opacity="0.25"/><circle cx="365.2" cy="672.3" r="2.0" fill="#86fa7c" opacity="0.90"/><circle cx="377.7" cy="677.6" r="2.2" fill="#35d535" opacity="0.25"/><circle cx="377.7" cy="677.6" r="1.5" fill="#86fa7c" opacity="0.90"/><circle cx="366.8" cy="681.7" r="1.8" fill="#35d535" opacity="0.22"/><circle cx="366.8" cy="681.7" r="1.2" fill="#86fa7c" opacity="0.80"/><circle cx="373.0" cy="695.7" r="4.2" fill="#35d535" opacity="0.28"/><circle cx="373.0" cy="695.7" r="2.8" fill="#86fa7c" opacity="1.00"/><circle cx="404.2" cy="700.4" r="3.3" fill="#35d535" opacity="0.27"/><circle cx="404.2" cy="700.4" r="2.2" fill="#86fa7c" opacity="0.95"/><circle cx="422.9" cy="670.8" r="1.8" fill="#35d535" opacity="0.20"/><circle cx="422.9" cy="670.8" r="1.2" fill="#86fa7c" opacity="0.70"/><circle cx="422.2" cy="682.6" r="1.8" fill="#35d535" opacity="0.20"/><circle cx="422.2" cy="682.6" r="1.2" fill="#86fa7c" opacity="0.70"/><circle cx="415.0" cy="663.0" r="1.5" fill="#35d535" opacity="0.11"/><circle cx="415.0" cy="663.0" r="1.0" fill="#86fa7c" opacity="0.40"/><circle cx="436.9" cy="714.4" r="3.0" fill="#35d535" opacity="0.24"/><circle cx="436.9" cy="714.4" r="2.0" fill="#86fa7c" opacity="0.85"/></g></g>
<g font-size="8.3" fill="#fff" stroke="#fff" stroke-width="0.15">
<text x="119.2" y="719.3">50 <tspan font-style="italic">µ</tspan>M H<tspan font-size="5.3" dy="2.2">2</tspan><tspan dy="-2.2">O</tspan><tspan font-size="5.3" dy="2.2">2</tspan></text>
<text x="283" y="718.8"><tspan font-style="italic">Pf</tspan>CM</text>
</g>
</g>
<path d="M0 0H520V0.8H0ZM0 0H0.95V732H0ZM518.75 0H520V732H518.75ZM0 730.6H520V732H0Z" fill="#333"/>
</svg></body></html>
